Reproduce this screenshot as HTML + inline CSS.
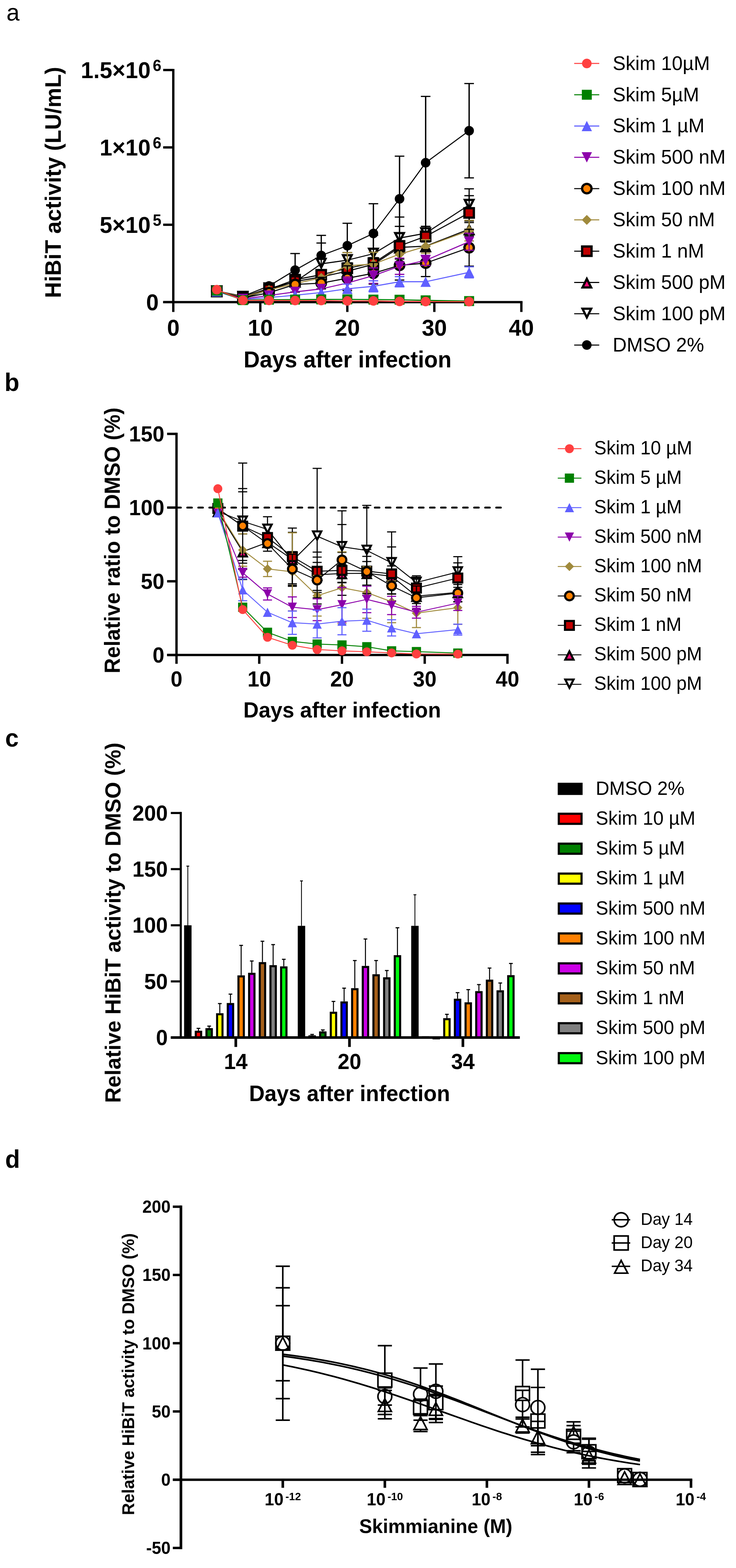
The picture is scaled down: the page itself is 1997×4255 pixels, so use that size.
<!DOCTYPE html>
<html lang="en">
<head>
<meta charset="utf-8">
<title>Skimmianine HiBiT activity figure</title>
<style>
html,body{margin:0;padding:0;background:#fff;}
body{width:1997px;height:4255px;overflow:hidden;}
svg{display:block;font-family:'Liberation Sans', sans-serif;}
text{fill:#000;}
</style>
</head>
<body>
<svg width="1997" height="4255" viewBox="0 0 1997 4255">
<rect width="1997" height="4255" fill="#fff"/>
<g id="panel-a">
<text font-size="64" text-anchor="start" transform="translate(17.5 56.0) scale(1 1.025)">a</text>
<line x1="470.2" y1="186.9" x2="470.2" y2="823.0" stroke="#000" stroke-width="6.3" />
<line x1="442.7" y1="819.9" x2="1417.8" y2="819.9" stroke="#000" stroke-width="6.3" />
<line x1="442.7" y1="819.9" x2="470.2" y2="819.9" stroke="#000" stroke-width="6.3" />
<line x1="442.7" y1="609.9" x2="470.2" y2="609.9" stroke="#000" stroke-width="6.3" />
<line x1="442.7" y1="400.0" x2="470.2" y2="400.0" stroke="#000" stroke-width="6.3" />
<line x1="442.7" y1="190.0" x2="470.2" y2="190.0" stroke="#000" stroke-width="6.3" />
<line x1="470.2" y1="819.9" x2="470.2" y2="846.6" stroke="#000" stroke-width="6.3" />
<text font-size="61.3" font-weight="bold" text-anchor="middle" transform="translate(470.2 910.5) scale(1 1.04)">0</text>
<line x1="706.3" y1="819.9" x2="706.3" y2="846.6" stroke="#000" stroke-width="6.3" />
<text font-size="61.3" font-weight="bold" text-anchor="middle" transform="translate(706.3 910.5) scale(1 1.04)">10</text>
<line x1="942.4" y1="819.9" x2="942.4" y2="846.6" stroke="#000" stroke-width="6.3" />
<text font-size="61.3" font-weight="bold" text-anchor="middle" transform="translate(942.4 910.5) scale(1 1.04)">20</text>
<line x1="1178.5" y1="819.9" x2="1178.5" y2="846.6" stroke="#000" stroke-width="6.3" />
<text font-size="61.3" font-weight="bold" text-anchor="middle" transform="translate(1178.5 910.5) scale(1 1.04)">30</text>
<line x1="1414.6" y1="819.9" x2="1414.6" y2="846.6" stroke="#000" stroke-width="6.3" />
<text font-size="61.3" font-weight="bold" text-anchor="middle" transform="translate(1414.6 910.5) scale(1 1.04)">40</text>
<text font-size="61.3" font-weight="bold" text-anchor="end" transform="translate(408.5 212.0) scale(1 1.04)">1.5×10<tspan x="6.0" dy="-18.5" text-anchor="start" font-size="42">6</tspan></text>
<text font-size="61.3" font-weight="bold" text-anchor="end" transform="translate(408.5 422.0) scale(1 1.04)">1×10<tspan x="6.0" dy="-18.5" text-anchor="start" font-size="42">6</tspan></text>
<text font-size="61.3" font-weight="bold" text-anchor="end" transform="translate(408.5 631.9) scale(1 1.04)">5×10<tspan x="6.0" dy="-18.5" text-anchor="start" font-size="42">5</tspan></text>
<text font-size="61.3" font-weight="bold" text-anchor="end" transform="translate(430.5 841.9) scale(1 1.04)">0</text>
<text font-size="60.4" font-weight="bold" text-anchor="middle" transform="translate(165.0 495.0) rotate(-90) scale(1 1.025)">HiBiT activity (LU/mL)</text>
<text font-size="60.8" font-weight="bold" text-anchor="middle" transform="translate(943.0 997.0) scale(1 1.025)">Days after infection</text>
<polyline points="588.2,789.6 659.1,804.0 729.9,776.0 800.7,733.0 871.6,693.3 942.4,666.7 1013.2,633.5 1084.1,539.5 1154.9,441.6 1272.9,354.7" fill="none" stroke="#000" stroke-width="2.8" stroke-linejoin="round" />
<line x1="800.7" y1="688.0" x2="800.7" y2="778.0" stroke="#000" stroke-width="3.2" />
<line x1="787.7" y1="688.0" x2="813.7" y2="688.0" stroke="#000" stroke-width="3.2" />
<line x1="787.7" y1="778.0" x2="813.7" y2="778.0" stroke="#000" stroke-width="3.2" />
<line x1="871.6" y1="638.7" x2="871.6" y2="747.9" stroke="#000" stroke-width="3.2" />
<line x1="858.6" y1="638.7" x2="884.6" y2="638.7" stroke="#000" stroke-width="3.2" />
<line x1="858.6" y1="747.9" x2="884.6" y2="747.9" stroke="#000" stroke-width="3.2" />
<line x1="942.4" y1="605.9" x2="942.4" y2="727.5" stroke="#000" stroke-width="3.2" />
<line x1="929.4" y1="605.9" x2="955.4" y2="605.9" stroke="#000" stroke-width="3.2" />
<line x1="929.4" y1="727.5" x2="955.4" y2="727.5" stroke="#000" stroke-width="3.2" />
<line x1="1013.2" y1="552.8" x2="1013.2" y2="714.2" stroke="#000" stroke-width="3.2" />
<line x1="1000.2" y1="552.8" x2="1026.2" y2="552.8" stroke="#000" stroke-width="3.2" />
<line x1="1000.2" y1="714.2" x2="1026.2" y2="714.2" stroke="#000" stroke-width="3.2" />
<line x1="1084.1" y1="423.8" x2="1084.1" y2="655.2" stroke="#000" stroke-width="3.2" />
<line x1="1071.1" y1="423.8" x2="1097.1" y2="423.8" stroke="#000" stroke-width="3.2" />
<line x1="1071.1" y1="655.2" x2="1097.1" y2="655.2" stroke="#000" stroke-width="3.2" />
<line x1="1154.9" y1="261.6" x2="1154.9" y2="621.6" stroke="#000" stroke-width="3.2" />
<line x1="1141.9" y1="261.6" x2="1167.9" y2="261.6" stroke="#000" stroke-width="3.2" />
<line x1="1141.9" y1="621.6" x2="1167.9" y2="621.6" stroke="#000" stroke-width="3.2" />
<line x1="1272.9" y1="226.7" x2="1272.9" y2="482.7" stroke="#000" stroke-width="3.2" />
<line x1="1259.9" y1="226.7" x2="1285.9" y2="226.7" stroke="#000" stroke-width="3.2" />
<line x1="1259.9" y1="482.7" x2="1285.9" y2="482.7" stroke="#000" stroke-width="3.2" />
<circle cx="588.2" cy="789.6" r="13.0" fill="#000"/>
<circle cx="659.1" cy="804.0" r="13.0" fill="#000"/>
<circle cx="729.9" cy="776.0" r="13.0" fill="#000"/>
<circle cx="800.7" cy="733.0" r="13.0" fill="#000"/>
<circle cx="871.6" cy="693.3" r="13.0" fill="#000"/>
<circle cx="942.4" cy="666.7" r="13.0" fill="#000"/>
<circle cx="1013.2" cy="633.5" r="13.0" fill="#000"/>
<circle cx="1084.1" cy="539.5" r="13.0" fill="#000"/>
<circle cx="1154.9" cy="441.6" r="13.0" fill="#000"/>
<circle cx="1272.9" cy="354.7" r="13.0" fill="#000"/>
<polyline points="588.2,790.5 659.1,805.5 729.9,782.7 800.7,764.8 871.6,716.0 942.4,706.0 1013.2,688.5 1084.1,646.0 1154.9,633.0 1272.9,556.0" fill="none" stroke="#000" stroke-width="2.8" stroke-linejoin="round" />
<line x1="871.6" y1="659.5" x2="871.6" y2="772.5" stroke="#000" stroke-width="3.2" />
<line x1="858.6" y1="659.5" x2="884.6" y2="659.5" stroke="#000" stroke-width="3.2" />
<line x1="858.6" y1="772.5" x2="884.6" y2="772.5" stroke="#000" stroke-width="3.2" />
<line x1="942.4" y1="685.4" x2="942.4" y2="726.6" stroke="#000" stroke-width="3.2" />
<line x1="929.4" y1="685.4" x2="955.4" y2="685.4" stroke="#000" stroke-width="3.2" />
<line x1="929.4" y1="726.6" x2="955.4" y2="726.6" stroke="#000" stroke-width="3.2" />
<line x1="1013.2" y1="638.5" x2="1013.2" y2="738.5" stroke="#000" stroke-width="3.2" />
<line x1="1000.2" y1="638.5" x2="1026.2" y2="638.5" stroke="#000" stroke-width="3.2" />
<line x1="1000.2" y1="738.5" x2="1026.2" y2="738.5" stroke="#000" stroke-width="3.2" />
<line x1="1084.1" y1="589.0" x2="1084.1" y2="703.0" stroke="#000" stroke-width="3.2" />
<line x1="1071.1" y1="589.0" x2="1097.1" y2="589.0" stroke="#000" stroke-width="3.2" />
<line x1="1071.1" y1="703.0" x2="1097.1" y2="703.0" stroke="#000" stroke-width="3.2" />
<line x1="1154.9" y1="614.3" x2="1154.9" y2="651.7" stroke="#000" stroke-width="3.2" />
<line x1="1141.9" y1="614.3" x2="1167.9" y2="614.3" stroke="#000" stroke-width="3.2" />
<line x1="1141.9" y1="651.7" x2="1167.9" y2="651.7" stroke="#000" stroke-width="3.2" />
<line x1="1272.9" y1="512.4" x2="1272.9" y2="599.6" stroke="#000" stroke-width="3.2" />
<line x1="1259.9" y1="512.4" x2="1285.9" y2="512.4" stroke="#000" stroke-width="3.2" />
<line x1="1259.9" y1="599.6" x2="1285.9" y2="599.6" stroke="#000" stroke-width="3.2" />
<polygon points="588.2,800.4 600.0,776.9 576.5,776.9" fill="#fff" stroke="#000" stroke-width="6"/>
<polygon points="659.1,815.4 670.8,791.9 647.3,791.9" fill="#fff" stroke="#000" stroke-width="6"/>
<polygon points="729.9,792.6 741.7,769.1 718.2,769.1" fill="#fff" stroke="#000" stroke-width="6"/>
<polygon points="800.7,774.7 812.5,751.2 789.0,751.2" fill="#fff" stroke="#000" stroke-width="6"/>
<polygon points="871.6,725.9 883.3,702.4 859.8,702.4" fill="#fff" stroke="#000" stroke-width="6"/>
<polygon points="942.4,715.9 954.1,692.4 930.6,692.4" fill="#fff" stroke="#000" stroke-width="6"/>
<polygon points="1013.2,698.4 1025.0,674.9 1001.5,674.9" fill="#fff" stroke="#000" stroke-width="6"/>
<polygon points="1084.1,655.9 1095.8,632.4 1072.3,632.4" fill="#fff" stroke="#000" stroke-width="6"/>
<polygon points="1154.9,642.9 1166.6,619.4 1143.1,619.4" fill="#fff" stroke="#000" stroke-width="6"/>
<polygon points="1272.9,565.9 1284.7,542.4 1261.2,542.4" fill="#fff" stroke="#000" stroke-width="6"/>
<line x1="800.7" y1="688.0" x2="800.7" y2="778.0" stroke="#000" stroke-width="3.2" />
<line x1="871.6" y1="638.7" x2="871.6" y2="747.9" stroke="#000" stroke-width="3.2" />
<line x1="942.4" y1="605.9" x2="942.4" y2="727.5" stroke="#000" stroke-width="3.2" />
<line x1="1013.2" y1="552.8" x2="1013.2" y2="714.2" stroke="#000" stroke-width="3.2" />
<line x1="1084.1" y1="423.8" x2="1084.1" y2="655.2" stroke="#000" stroke-width="3.2" />
<line x1="1154.9" y1="261.6" x2="1154.9" y2="621.6" stroke="#000" stroke-width="3.2" />
<line x1="1272.9" y1="226.7" x2="1272.9" y2="482.7" stroke="#000" stroke-width="3.2" />
<polyline points="588.2,790.5 659.1,808.8 729.9,786.5 800.7,763.8 871.6,751.5 942.4,735.8 1013.2,717.4 1084.1,671.3 1154.9,668.0 1272.9,622.0" fill="none" stroke="#000" stroke-width="2.8" stroke-linejoin="round" />
<line x1="1084.1" y1="659.5" x2="1084.1" y2="683.0" stroke="#000" stroke-width="3.2" />
<line x1="1071.1" y1="659.5" x2="1097.1" y2="659.5" stroke="#000" stroke-width="3.2" />
<line x1="1071.1" y1="683.0" x2="1097.1" y2="683.0" stroke="#000" stroke-width="3.2" />
<line x1="1154.9" y1="656.7" x2="1154.9" y2="679.3" stroke="#000" stroke-width="3.2" />
<line x1="1141.9" y1="656.7" x2="1167.9" y2="656.7" stroke="#000" stroke-width="3.2" />
<line x1="1141.9" y1="679.3" x2="1167.9" y2="679.3" stroke="#000" stroke-width="3.2" />
<line x1="1272.9" y1="603.9" x2="1272.9" y2="640.1" stroke="#000" stroke-width="3.2" />
<line x1="1259.9" y1="603.9" x2="1285.9" y2="603.9" stroke="#000" stroke-width="3.2" />
<line x1="1259.9" y1="640.1" x2="1285.9" y2="640.1" stroke="#000" stroke-width="3.2" />
<polygon points="588.2,780.6 600.0,804.1 576.5,804.1" fill="#ff0a78" stroke="#000" stroke-width="6"/>
<polygon points="659.1,798.9 670.8,822.4 647.3,822.4" fill="#ff0a78" stroke="#000" stroke-width="6"/>
<polygon points="729.9,776.6 741.7,800.1 718.2,800.1" fill="#ff0a78" stroke="#000" stroke-width="6"/>
<polygon points="800.7,753.9 812.5,777.4 789.0,777.4" fill="#ff0a78" stroke="#000" stroke-width="6"/>
<polygon points="871.6,741.6 883.3,765.1 859.8,765.1" fill="#ff0a78" stroke="#000" stroke-width="6"/>
<polygon points="942.4,725.9 954.1,749.4 930.6,749.4" fill="#ff0a78" stroke="#000" stroke-width="6"/>
<polygon points="1013.2,707.5 1025.0,731.0 1001.5,731.0" fill="#ff0a78" stroke="#000" stroke-width="6"/>
<polygon points="1084.1,661.4 1095.8,684.9 1072.3,684.9" fill="#ff0a78" stroke="#000" stroke-width="6"/>
<polygon points="1154.9,658.1 1166.6,681.6 1143.1,681.6" fill="#ff0a78" stroke="#000" stroke-width="6"/>
<polygon points="1272.9,612.1 1284.7,635.6 1261.2,635.6" fill="#ff0a78" stroke="#000" stroke-width="6"/>
<polyline points="588.2,789.9 659.1,806.1 729.9,785.1 800.7,759.0 871.6,745.5 942.4,728.0 1013.2,714.0 1084.1,667.3 1154.9,641.4 1272.9,577.7" fill="none" stroke="#000" stroke-width="2.8" stroke-linejoin="round" />
<line x1="800.7" y1="745.5" x2="800.7" y2="772.5" stroke="#000" stroke-width="3.2" />
<line x1="787.7" y1="745.5" x2="813.7" y2="745.5" stroke="#000" stroke-width="3.2" />
<line x1="787.7" y1="772.5" x2="813.7" y2="772.5" stroke="#000" stroke-width="3.2" />
<line x1="871.6" y1="732.3" x2="871.6" y2="758.7" stroke="#000" stroke-width="3.2" />
<line x1="858.6" y1="732.3" x2="884.6" y2="732.3" stroke="#000" stroke-width="3.2" />
<line x1="858.6" y1="758.7" x2="884.6" y2="758.7" stroke="#000" stroke-width="3.2" />
<line x1="942.4" y1="713.1" x2="942.4" y2="742.9" stroke="#000" stroke-width="3.2" />
<line x1="929.4" y1="713.1" x2="955.4" y2="713.1" stroke="#000" stroke-width="3.2" />
<line x1="929.4" y1="742.9" x2="955.4" y2="742.9" stroke="#000" stroke-width="3.2" />
<line x1="1013.2" y1="699.1" x2="1013.2" y2="728.9" stroke="#000" stroke-width="3.2" />
<line x1="1000.2" y1="699.1" x2="1026.2" y2="699.1" stroke="#000" stroke-width="3.2" />
<line x1="1000.2" y1="728.9" x2="1026.2" y2="728.9" stroke="#000" stroke-width="3.2" />
<line x1="1084.1" y1="614.3" x2="1084.1" y2="720.3" stroke="#000" stroke-width="3.2" />
<line x1="1071.1" y1="614.3" x2="1097.1" y2="614.3" stroke="#000" stroke-width="3.2" />
<line x1="1071.1" y1="720.3" x2="1097.1" y2="720.3" stroke="#000" stroke-width="3.2" />
<line x1="1154.9" y1="614.4" x2="1154.9" y2="668.4" stroke="#000" stroke-width="3.2" />
<line x1="1141.9" y1="614.4" x2="1167.9" y2="614.4" stroke="#000" stroke-width="3.2" />
<line x1="1141.9" y1="668.4" x2="1167.9" y2="668.4" stroke="#000" stroke-width="3.2" />
<line x1="1272.9" y1="531.0" x2="1272.9" y2="624.4" stroke="#000" stroke-width="3.2" />
<line x1="1259.9" y1="531.0" x2="1285.9" y2="531.0" stroke="#000" stroke-width="3.2" />
<line x1="1259.9" y1="624.4" x2="1285.9" y2="624.4" stroke="#000" stroke-width="3.2" />
<rect x="575.5" y="777.2" width="25.5" height="25.5" fill="#c00000" stroke="#000" stroke-width="6.2"/>
<rect x="646.3" y="793.3" width="25.5" height="25.5" fill="#c00000" stroke="#000" stroke-width="6.2"/>
<rect x="717.2" y="772.3" width="25.5" height="25.5" fill="#c00000" stroke="#000" stroke-width="6.2"/>
<rect x="788.0" y="746.2" width="25.5" height="25.5" fill="#c00000" stroke="#000" stroke-width="6.2"/>
<rect x="858.8" y="732.8" width="25.5" height="25.5" fill="#c00000" stroke="#000" stroke-width="6.2"/>
<rect x="929.6" y="715.2" width="25.5" height="25.5" fill="#c00000" stroke="#000" stroke-width="6.2"/>
<rect x="1000.5" y="701.2" width="25.5" height="25.5" fill="#c00000" stroke="#000" stroke-width="6.2"/>
<rect x="1071.3" y="654.5" width="25.5" height="25.5" fill="#c00000" stroke="#000" stroke-width="6.2"/>
<rect x="1142.1" y="628.6" width="25.5" height="25.5" fill="#c00000" stroke="#000" stroke-width="6.2"/>
<rect x="1260.2" y="565.0" width="25.5" height="25.5" fill="#c00000" stroke="#000" stroke-width="6.2"/>
<polyline points="588.2,790.1 659.1,806.0 729.9,786.9 800.7,769.6 871.6,754.0 942.4,721.5 1013.2,716.5 1084.1,689.8 1154.9,668.7 1272.9,625.9" fill="none" stroke="#a08a3c" stroke-width="2.8" stroke-linejoin="round" />
<line x1="942.4" y1="685.5" x2="942.4" y2="757.5" stroke="#a08a3c" stroke-width="3.2" />
<line x1="929.4" y1="685.5" x2="955.4" y2="685.5" stroke="#a08a3c" stroke-width="3.2" />
<line x1="929.4" y1="757.5" x2="955.4" y2="757.5" stroke="#a08a3c" stroke-width="3.2" />
<line x1="1013.2" y1="684.5" x2="1013.2" y2="748.5" stroke="#a08a3c" stroke-width="3.2" />
<line x1="1000.2" y1="684.5" x2="1026.2" y2="684.5" stroke="#a08a3c" stroke-width="3.2" />
<line x1="1000.2" y1="748.5" x2="1026.2" y2="748.5" stroke="#a08a3c" stroke-width="3.2" />
<line x1="1154.9" y1="650.5" x2="1154.9" y2="686.9" stroke="#a08a3c" stroke-width="3.2" />
<line x1="1141.9" y1="650.5" x2="1167.9" y2="650.5" stroke="#a08a3c" stroke-width="3.2" />
<line x1="1141.9" y1="686.9" x2="1167.9" y2="686.9" stroke="#a08a3c" stroke-width="3.2" />
<line x1="1272.9" y1="597.9" x2="1272.9" y2="653.9" stroke="#a08a3c" stroke-width="3.2" />
<line x1="1259.9" y1="597.9" x2="1285.9" y2="597.9" stroke="#a08a3c" stroke-width="3.2" />
<line x1="1259.9" y1="653.9" x2="1285.9" y2="653.9" stroke="#a08a3c" stroke-width="3.2" />
<polygon points="588.2,776.6 601.8,790.1 588.2,803.6 574.8,790.1" fill="#a08a3c"/>
<polygon points="659.1,792.5 672.6,806.0 659.1,819.5 645.6,806.0" fill="#a08a3c"/>
<polygon points="729.9,773.4 743.4,786.9 729.9,800.4 716.4,786.9" fill="#a08a3c"/>
<polygon points="800.7,756.1 814.2,769.6 800.7,783.1 787.2,769.6" fill="#a08a3c"/>
<polygon points="871.6,740.5 885.1,754.0 871.6,767.5 858.1,754.0" fill="#a08a3c"/>
<polygon points="942.4,708.0 955.9,721.5 942.4,735.0 928.9,721.5" fill="#a08a3c"/>
<polygon points="1013.2,703.0 1026.7,716.5 1013.2,730.0 999.7,716.5" fill="#a08a3c"/>
<polygon points="1084.1,676.3 1097.6,689.8 1084.1,703.3 1070.6,689.8" fill="#a08a3c"/>
<polygon points="1154.9,655.2 1168.4,668.7 1154.9,682.2 1141.4,668.7" fill="#a08a3c"/>
<polygon points="1272.9,612.4 1286.4,625.9 1272.9,639.4 1259.4,625.9" fill="#a08a3c"/>
<polyline points="588.2,790.2 659.1,808.6 729.9,794.4 800.7,771.9 871.6,768.3 942.4,755.0 1013.2,741.6 1084.1,720.0 1154.9,714.0 1272.9,672.2" fill="none" stroke="#000" stroke-width="2.8" stroke-linejoin="round" />
<line x1="800.7" y1="751.2" x2="800.7" y2="792.6" stroke="#000" stroke-width="3.2" />
<line x1="787.7" y1="751.2" x2="813.7" y2="751.2" stroke="#000" stroke-width="3.2" />
<line x1="787.7" y1="792.6" x2="813.7" y2="792.6" stroke="#000" stroke-width="3.2" />
<line x1="871.6" y1="752.6" x2="871.6" y2="784.0" stroke="#000" stroke-width="3.2" />
<line x1="858.6" y1="752.6" x2="884.6" y2="752.6" stroke="#000" stroke-width="3.2" />
<line x1="858.6" y1="784.0" x2="884.6" y2="784.0" stroke="#000" stroke-width="3.2" />
<line x1="942.4" y1="721.4" x2="942.4" y2="788.6" stroke="#000" stroke-width="3.2" />
<line x1="929.4" y1="721.4" x2="955.4" y2="721.4" stroke="#000" stroke-width="3.2" />
<line x1="929.4" y1="788.6" x2="955.4" y2="788.6" stroke="#000" stroke-width="3.2" />
<line x1="1013.2" y1="712.2" x2="1013.2" y2="770.9" stroke="#000" stroke-width="3.2" />
<line x1="1000.2" y1="712.2" x2="1026.2" y2="712.2" stroke="#000" stroke-width="3.2" />
<line x1="1000.2" y1="770.9" x2="1026.2" y2="770.9" stroke="#000" stroke-width="3.2" />
<line x1="1084.1" y1="680.0" x2="1084.1" y2="760.0" stroke="#000" stroke-width="3.2" />
<line x1="1071.1" y1="680.0" x2="1097.1" y2="680.0" stroke="#000" stroke-width="3.2" />
<line x1="1071.1" y1="760.0" x2="1097.1" y2="760.0" stroke="#000" stroke-width="3.2" />
<line x1="1154.9" y1="677.5" x2="1154.9" y2="750.5" stroke="#000" stroke-width="3.2" />
<line x1="1141.9" y1="677.5" x2="1167.9" y2="677.5" stroke="#000" stroke-width="3.2" />
<line x1="1141.9" y1="750.5" x2="1167.9" y2="750.5" stroke="#000" stroke-width="3.2" />
<line x1="1272.9" y1="622.2" x2="1272.9" y2="722.2" stroke="#000" stroke-width="3.2" />
<line x1="1259.9" y1="622.2" x2="1285.9" y2="622.2" stroke="#000" stroke-width="3.2" />
<line x1="1259.9" y1="722.2" x2="1285.9" y2="722.2" stroke="#000" stroke-width="3.2" />
<circle cx="588.2" cy="790.2" r="12.8" fill="#ff8000" stroke="#000" stroke-width="6.2"/>
<circle cx="659.1" cy="808.6" r="12.8" fill="#ff8000" stroke="#000" stroke-width="6.2"/>
<circle cx="729.9" cy="794.4" r="12.8" fill="#ff8000" stroke="#000" stroke-width="6.2"/>
<circle cx="800.7" cy="771.9" r="12.8" fill="#ff8000" stroke="#000" stroke-width="6.2"/>
<circle cx="871.6" cy="768.3" r="12.8" fill="#ff8000" stroke="#000" stroke-width="6.2"/>
<circle cx="942.4" cy="755.0" r="12.8" fill="#ff8000" stroke="#000" stroke-width="6.2"/>
<circle cx="1013.2" cy="741.6" r="12.8" fill="#ff8000" stroke="#000" stroke-width="6.2"/>
<circle cx="1084.1" cy="720.0" r="12.8" fill="#ff8000" stroke="#000" stroke-width="6.2"/>
<circle cx="1154.9" cy="714.0" r="12.8" fill="#ff8000" stroke="#000" stroke-width="6.2"/>
<circle cx="1272.9" cy="672.2" r="12.8" fill="#ff8000" stroke="#000" stroke-width="6.2"/>
<polyline points="588.2,790.9 659.1,811.1 729.9,801.9 800.7,792.1 871.6,784.0 942.4,768.0 1013.2,748.0 1084.1,722.5 1154.9,706.5 1272.9,656.0" fill="none" stroke="#8c00aa" stroke-width="2.8" stroke-linejoin="round" />
<line x1="942.4" y1="751.7" x2="942.4" y2="784.3" stroke="#8c00aa" stroke-width="3.2" />
<line x1="929.4" y1="751.7" x2="955.4" y2="751.7" stroke="#8c00aa" stroke-width="3.2" />
<line x1="929.4" y1="784.3" x2="955.4" y2="784.3" stroke="#8c00aa" stroke-width="3.2" />
<line x1="1013.2" y1="727.0" x2="1013.2" y2="769.0" stroke="#8c00aa" stroke-width="3.2" />
<line x1="1000.2" y1="727.0" x2="1026.2" y2="727.0" stroke="#8c00aa" stroke-width="3.2" />
<line x1="1000.2" y1="769.0" x2="1026.2" y2="769.0" stroke="#8c00aa" stroke-width="3.2" />
<line x1="1084.1" y1="700.5" x2="1084.1" y2="744.5" stroke="#8c00aa" stroke-width="3.2" />
<line x1="1071.1" y1="700.5" x2="1097.1" y2="700.5" stroke="#8c00aa" stroke-width="3.2" />
<line x1="1071.1" y1="744.5" x2="1097.1" y2="744.5" stroke="#8c00aa" stroke-width="3.2" />
<line x1="1154.9" y1="692.9" x2="1154.9" y2="720.1" stroke="#8c00aa" stroke-width="3.2" />
<line x1="1141.9" y1="692.9" x2="1167.9" y2="692.9" stroke="#8c00aa" stroke-width="3.2" />
<line x1="1141.9" y1="720.1" x2="1167.9" y2="720.1" stroke="#8c00aa" stroke-width="3.2" />
<line x1="1272.9" y1="633.0" x2="1272.9" y2="679.0" stroke="#8c00aa" stroke-width="3.2" />
<line x1="1259.9" y1="633.0" x2="1285.9" y2="633.0" stroke="#8c00aa" stroke-width="3.2" />
<line x1="1259.9" y1="679.0" x2="1285.9" y2="679.0" stroke="#8c00aa" stroke-width="3.2" />
<polygon points="588.2,804.9 602.2,776.9 574.2,776.9" fill="#8c00aa"/>
<polygon points="659.1,825.1 673.1,797.1 645.1,797.1" fill="#8c00aa"/>
<polygon points="729.9,815.9 743.9,787.9 715.9,787.9" fill="#8c00aa"/>
<polygon points="800.7,806.1 814.7,778.1 786.7,778.1" fill="#8c00aa"/>
<polygon points="871.6,798.0 885.6,770.0 857.6,770.0" fill="#8c00aa"/>
<polygon points="942.4,782.0 956.4,754.0 928.4,754.0" fill="#8c00aa"/>
<polygon points="1013.2,762.0 1027.2,734.0 999.2,734.0" fill="#8c00aa"/>
<polygon points="1084.1,736.5 1098.1,708.5 1070.1,708.5" fill="#8c00aa"/>
<polygon points="1154.9,720.5 1168.9,692.5 1140.9,692.5" fill="#8c00aa"/>
<polygon points="1272.9,670.0 1286.9,642.0 1258.9,642.0" fill="#8c00aa"/>
<polyline points="588.2,790.8 659.1,812.9 729.9,807.3 800.7,801.2 871.6,793.8 942.4,783.6 1013.2,777.0 1084.1,764.5 1154.9,764.5 1272.9,739.0" fill="none" stroke="#6060ff" stroke-width="2.8" stroke-linejoin="round" />
<line x1="942.4" y1="770.9" x2="942.4" y2="796.3" stroke="#6060ff" stroke-width="3.2" />
<line x1="929.4" y1="770.9" x2="955.4" y2="770.9" stroke="#6060ff" stroke-width="3.2" />
<line x1="929.4" y1="796.3" x2="955.4" y2="796.3" stroke="#6060ff" stroke-width="3.2" />
<line x1="1013.2" y1="762.0" x2="1013.2" y2="792.0" stroke="#6060ff" stroke-width="3.2" />
<line x1="1000.2" y1="762.0" x2="1026.2" y2="762.0" stroke="#6060ff" stroke-width="3.2" />
<line x1="1000.2" y1="792.0" x2="1026.2" y2="792.0" stroke="#6060ff" stroke-width="3.2" />
<line x1="1084.1" y1="750.6" x2="1084.1" y2="778.4" stroke="#6060ff" stroke-width="3.2" />
<line x1="1071.1" y1="750.6" x2="1097.1" y2="750.6" stroke="#6060ff" stroke-width="3.2" />
<line x1="1071.1" y1="778.4" x2="1097.1" y2="778.4" stroke="#6060ff" stroke-width="3.2" />
<line x1="1272.9" y1="724.0" x2="1272.9" y2="754.0" stroke="#6060ff" stroke-width="3.2" />
<line x1="1259.9" y1="724.0" x2="1285.9" y2="724.0" stroke="#6060ff" stroke-width="3.2" />
<line x1="1259.9" y1="754.0" x2="1285.9" y2="754.0" stroke="#6060ff" stroke-width="3.2" />
<polygon points="588.2,776.8 602.2,804.8 574.2,804.8" fill="#6060ff"/>
<polygon points="659.1,798.9 673.1,826.9 645.1,826.9" fill="#6060ff"/>
<polygon points="729.9,793.3 743.9,821.3 715.9,821.3" fill="#6060ff"/>
<polygon points="800.7,787.2 814.7,815.2 786.7,815.2" fill="#6060ff"/>
<polygon points="871.6,779.8 885.6,807.8 857.6,807.8" fill="#6060ff"/>
<polygon points="942.4,769.6 956.4,797.6 928.4,797.6" fill="#6060ff"/>
<polygon points="1013.2,763.0 1027.2,791.0 999.2,791.0" fill="#6060ff"/>
<polygon points="1084.1,750.5 1098.1,778.5 1070.1,778.5" fill="#6060ff"/>
<polygon points="1154.9,750.5 1168.9,778.5 1140.9,778.5" fill="#6060ff"/>
<polygon points="1272.9,725.0 1286.9,753.0 1258.9,753.0" fill="#6060ff"/>
<polyline points="588.2,788.8 659.1,814.5 729.9,813.2 800.7,813.0 871.6,812.5 942.4,812.4 1013.2,813.0 1084.1,813.3 1154.9,815.0 1272.9,817.0" fill="none" stroke="#008000" stroke-width="2.8" stroke-linejoin="round" />
<rect x="574.8" y="775.3" width="27.0" height="27.0" fill="#008000"/>
<rect x="645.6" y="801.0" width="27.0" height="27.0" fill="#008000"/>
<rect x="716.4" y="799.7" width="27.0" height="27.0" fill="#008000"/>
<rect x="787.2" y="799.5" width="27.0" height="27.0" fill="#008000"/>
<rect x="858.1" y="799.0" width="27.0" height="27.0" fill="#008000"/>
<rect x="928.9" y="798.9" width="27.0" height="27.0" fill="#008000"/>
<rect x="999.7" y="799.5" width="27.0" height="27.0" fill="#008000"/>
<rect x="1070.6" y="799.8" width="27.0" height="27.0" fill="#008000"/>
<rect x="1141.4" y="801.5" width="27.0" height="27.0" fill="#008000"/>
<rect x="1259.4" y="803.5" width="27.0" height="27.0" fill="#008000"/>
<polyline points="588.2,786.0 659.1,814.8 729.9,815.3 800.7,815.6 871.6,815.6 942.4,816.6 1013.2,816.6 1084.1,818.0 1154.9,818.3 1272.9,818.6" fill="none" stroke="#ff4040" stroke-width="2.8" stroke-linejoin="round" />
<circle cx="588.2" cy="786.0" r="13.0" fill="#ff4040"/>
<circle cx="659.1" cy="814.8" r="13.0" fill="#ff4040"/>
<circle cx="729.9" cy="815.3" r="13.0" fill="#ff4040"/>
<circle cx="800.7" cy="815.6" r="13.0" fill="#ff4040"/>
<circle cx="871.6" cy="815.6" r="13.0" fill="#ff4040"/>
<circle cx="942.4" cy="816.6" r="13.0" fill="#ff4040"/>
<circle cx="1013.2" cy="816.6" r="13.0" fill="#ff4040"/>
<circle cx="1084.1" cy="818.0" r="13.0" fill="#ff4040"/>
<circle cx="1154.9" cy="818.3" r="13.0" fill="#ff4040"/>
<circle cx="1272.9" cy="818.6" r="13.0" fill="#ff4040"/>
<line x1="1558.0" y1="172.2" x2="1626.0" y2="172.2" stroke="#ff4040" stroke-width="2.8" />
<circle cx="1592.2" cy="172.2" r="13.0" fill="#ff4040"/>
<text font-size="52.5" text-anchor="start" transform="translate(1662.5 189.6) scale(1 1.025)">Skim 10µM</text>
<line x1="1558.0" y1="257.1" x2="1626.0" y2="257.1" stroke="#008000" stroke-width="2.8" />
<rect x="1578.7" y="243.6" width="27.0" height="27.0" fill="#008000"/>
<text font-size="52.5" text-anchor="start" transform="translate(1662.5 274.5) scale(1 1.025)">Skim 5µM</text>
<line x1="1558.0" y1="342.0" x2="1626.0" y2="342.0" stroke="#6060ff" stroke-width="2.8" />
<polygon points="1592.2,328.0 1606.2,356.0 1578.2,356.0" fill="#6060ff"/>
<text font-size="52.5" text-anchor="start" transform="translate(1662.5 359.4) scale(1 1.025)">Skim 1 µM</text>
<line x1="1558.0" y1="426.9" x2="1626.0" y2="426.9" stroke="#8c00aa" stroke-width="2.8" />
<polygon points="1592.2,440.9 1606.2,412.9 1578.2,412.9" fill="#8c00aa"/>
<text font-size="52.5" text-anchor="start" transform="translate(1662.5 444.3) scale(1 1.025)">Skim 500 nM</text>
<line x1="1558.0" y1="511.8" x2="1626.0" y2="511.8" stroke="#000" stroke-width="2.8" />
<circle cx="1592.2" cy="511.8" r="12.8" fill="#ff8000" stroke="#000" stroke-width="6.2"/>
<text font-size="52.5" text-anchor="start" transform="translate(1662.5 529.2) scale(1 1.025)">Skim 100 nM</text>
<line x1="1558.0" y1="596.7" x2="1626.0" y2="596.7" stroke="#a08a3c" stroke-width="2.8" />
<polygon points="1592.2,583.2 1605.7,596.7 1592.2,610.2 1578.7,596.7" fill="#a08a3c"/>
<text font-size="52.5" text-anchor="start" transform="translate(1662.5 614.1) scale(1 1.025)">Skim 50 nM</text>
<line x1="1558.0" y1="681.6" x2="1626.0" y2="681.6" stroke="#000" stroke-width="2.8" />
<rect x="1579.5" y="668.9" width="25.5" height="25.5" fill="#c00000" stroke="#000" stroke-width="6.2"/>
<text font-size="52.5" text-anchor="start" transform="translate(1662.5 699.0) scale(1 1.025)">Skim 1 nM</text>
<line x1="1558.0" y1="766.5" x2="1626.0" y2="766.5" stroke="#000" stroke-width="2.8" />
<polygon points="1592.2,756.6 1604.0,780.1 1580.5,780.1" fill="#ff0a78" stroke="#000" stroke-width="6"/>
<text font-size="52.5" text-anchor="start" transform="translate(1662.5 783.9) scale(1 1.025)">Skim 500 pM</text>
<line x1="1558.0" y1="851.4" x2="1626.0" y2="851.4" stroke="#000" stroke-width="2.8" />
<polygon points="1592.2,861.3 1604.0,837.8 1580.5,837.8" fill="#fff" stroke="#000" stroke-width="6"/>
<text font-size="52.5" text-anchor="start" transform="translate(1662.5 868.8) scale(1 1.025)">Skim 100 pM</text>
<line x1="1558.0" y1="936.3" x2="1626.0" y2="936.3" stroke="#000" stroke-width="2.8" />
<circle cx="1592.2" cy="936.3" r="13.0" fill="#000"/>
<text font-size="52.5" text-anchor="start" transform="translate(1662.5 953.7) scale(1 1.025)">DMSO 2%</text>
</g>
<g id="panel-b">
<text font-size="66" font-weight="bold" text-anchor="start" transform="translate(12.3 1060.5) scale(1 1.025)">b</text>
<line x1="478.9" y1="1174.2" x2="478.9" y2="1780.6" stroke="#000" stroke-width="6.4" />
<line x1="453.4" y1="1777.4" x2="1380.1" y2="1777.4" stroke="#000" stroke-width="6.4" />
<line x1="453.4" y1="1777.4" x2="478.9" y2="1777.4" stroke="#000" stroke-width="6.4" />
<text font-size="57.5" font-weight="bold" text-anchor="end" transform="translate(445.9 1797.7) scale(1 1.04)">0</text>
<line x1="453.4" y1="1577.4" x2="478.9" y2="1577.4" stroke="#000" stroke-width="6.4" />
<text font-size="57.5" font-weight="bold" text-anchor="end" transform="translate(445.9 1597.7) scale(1 1.04)">50</text>
<line x1="453.4" y1="1377.4" x2="478.9" y2="1377.4" stroke="#000" stroke-width="6.4" />
<text font-size="57.5" font-weight="bold" text-anchor="end" transform="translate(445.9 1397.7) scale(1 1.04)">100</text>
<line x1="453.4" y1="1177.4" x2="478.9" y2="1177.4" stroke="#000" stroke-width="6.4" />
<text font-size="57.5" font-weight="bold" text-anchor="end" transform="translate(445.9 1197.7) scale(1 1.04)">150</text>
<line x1="478.9" y1="1777.4" x2="478.9" y2="1801.4" stroke="#000" stroke-width="6.4" />
<text font-size="57.5" font-weight="bold" text-anchor="middle" transform="translate(478.9 1863.2) scale(1 1.04)">0</text>
<line x1="703.4" y1="1777.4" x2="703.4" y2="1801.4" stroke="#000" stroke-width="6.4" />
<text font-size="57.5" font-weight="bold" text-anchor="middle" transform="translate(703.4 1863.2) scale(1 1.04)">10</text>
<line x1="927.9" y1="1777.4" x2="927.9" y2="1801.4" stroke="#000" stroke-width="6.4" />
<text font-size="57.5" font-weight="bold" text-anchor="middle" transform="translate(927.9 1863.2) scale(1 1.04)">20</text>
<line x1="1152.4" y1="1777.4" x2="1152.4" y2="1801.4" stroke="#000" stroke-width="6.4" />
<text font-size="57.5" font-weight="bold" text-anchor="middle" transform="translate(1152.4 1863.2) scale(1 1.04)">30</text>
<line x1="1376.9" y1="1777.4" x2="1376.9" y2="1801.4" stroke="#000" stroke-width="6.4" />
<text font-size="57.5" font-weight="bold" text-anchor="middle" transform="translate(1376.9 1863.2) scale(1 1.04)">40</text>
<text font-size="57.2" font-weight="bold" text-anchor="middle" transform="translate(325.0 1466.5) rotate(-90) scale(1 1.025)">Relative ratio to DMSO (%)</text>
<text font-size="57.8" font-weight="bold" text-anchor="middle" transform="translate(928.3 1946.5) scale(1 1.025)">Days after infection</text>
<line x1="478.3" y1="1377.4" x2="1358.9" y2="1377.4" stroke="#000" stroke-width="5.4" stroke-dasharray="12.2 17.74" stroke-linecap="round"/>
<polyline points="591.1,1387.8 658.5,1414.6 725.8,1436.6 793.2,1522.2 860.5,1455.0 927.9,1483.8 995.2,1493.8 1062.6,1527.4 1129.9,1580.6 1242.2,1552.2" fill="none" stroke="#000" stroke-width="2.5" stroke-linejoin="round" />
<line x1="591.1" y1="1375.8" x2="591.1" y2="1399.8" stroke="#000" stroke-width="3.0" />
<line x1="578.9" y1="1375.8" x2="603.4" y2="1375.8" stroke="#000" stroke-width="3.0" />
<line x1="578.9" y1="1399.8" x2="603.4" y2="1399.8" stroke="#000" stroke-width="3.0" />
<line x1="658.5" y1="1256.6" x2="658.5" y2="1572.6" stroke="#000" stroke-width="3.0" />
<line x1="646.2" y1="1256.6" x2="670.8" y2="1256.6" stroke="#000" stroke-width="3.0" />
<line x1="646.2" y1="1572.6" x2="670.8" y2="1572.6" stroke="#000" stroke-width="3.0" />
<line x1="725.8" y1="1402.2" x2="725.8" y2="1471.0" stroke="#000" stroke-width="3.0" />
<line x1="713.6" y1="1402.2" x2="738.1" y2="1402.2" stroke="#000" stroke-width="3.0" />
<line x1="713.6" y1="1471.0" x2="738.1" y2="1471.0" stroke="#000" stroke-width="3.0" />
<line x1="793.2" y1="1497.0" x2="793.2" y2="1547.4" stroke="#000" stroke-width="3.0" />
<line x1="781.0" y1="1497.0" x2="805.5" y2="1497.0" stroke="#000" stroke-width="3.0" />
<line x1="781.0" y1="1547.4" x2="805.5" y2="1547.4" stroke="#000" stroke-width="3.0" />
<line x1="860.5" y1="1271.0" x2="860.5" y2="1639.0" stroke="#000" stroke-width="3.0" />
<line x1="848.3" y1="1271.0" x2="872.8" y2="1271.0" stroke="#000" stroke-width="3.0" />
<line x1="848.3" y1="1639.0" x2="872.8" y2="1639.0" stroke="#000" stroke-width="3.0" />
<line x1="927.9" y1="1386.2" x2="927.9" y2="1581.4" stroke="#000" stroke-width="3.0" />
<line x1="915.6" y1="1386.2" x2="940.1" y2="1386.2" stroke="#000" stroke-width="3.0" />
<line x1="915.6" y1="1581.4" x2="940.1" y2="1581.4" stroke="#000" stroke-width="3.0" />
<line x1="995.2" y1="1371.4" x2="995.2" y2="1616.2" stroke="#000" stroke-width="3.0" />
<line x1="983.0" y1="1371.4" x2="1007.5" y2="1371.4" stroke="#000" stroke-width="3.0" />
<line x1="983.0" y1="1616.2" x2="1007.5" y2="1616.2" stroke="#000" stroke-width="3.0" />
<line x1="1062.6" y1="1443.4" x2="1062.6" y2="1611.4" stroke="#000" stroke-width="3.0" />
<line x1="1050.3" y1="1443.4" x2="1074.8" y2="1443.4" stroke="#000" stroke-width="3.0" />
<line x1="1050.3" y1="1611.4" x2="1074.8" y2="1611.4" stroke="#000" stroke-width="3.0" />
<line x1="1129.9" y1="1562.6" x2="1129.9" y2="1598.6" stroke="#000" stroke-width="3.0" />
<line x1="1117.7" y1="1562.6" x2="1142.2" y2="1562.6" stroke="#000" stroke-width="3.0" />
<line x1="1117.7" y1="1598.6" x2="1142.2" y2="1598.6" stroke="#000" stroke-width="3.0" />
<line x1="1242.2" y1="1510.6" x2="1242.2" y2="1593.8" stroke="#000" stroke-width="3.0" />
<line x1="1229.9" y1="1510.6" x2="1254.4" y2="1510.6" stroke="#000" stroke-width="3.0" />
<line x1="1229.9" y1="1593.8" x2="1254.4" y2="1593.8" stroke="#000" stroke-width="3.0" />
<polygon points="591.1,1397.3 602.4,1374.8 579.9,1374.8" fill="#fff" stroke="#000" stroke-width="5.6"/>
<polygon points="658.5,1424.1 669.8,1401.6 647.2,1401.6" fill="#fff" stroke="#000" stroke-width="5.6"/>
<polygon points="725.8,1446.1 737.1,1423.6 714.6,1423.6" fill="#fff" stroke="#000" stroke-width="5.6"/>
<polygon points="793.2,1531.7 804.5,1509.2 782.0,1509.2" fill="#fff" stroke="#000" stroke-width="5.6"/>
<polygon points="860.5,1464.5 871.8,1442.0 849.3,1442.0" fill="#fff" stroke="#000" stroke-width="5.6"/>
<polygon points="927.9,1493.3 939.1,1470.8 916.6,1470.8" fill="#fff" stroke="#000" stroke-width="5.6"/>
<polygon points="995.2,1503.3 1006.5,1480.8 984.0,1480.8" fill="#fff" stroke="#000" stroke-width="5.6"/>
<polygon points="1062.6,1536.9 1073.8,1514.4 1051.3,1514.4" fill="#fff" stroke="#000" stroke-width="5.6"/>
<polygon points="1129.9,1590.1 1141.2,1567.6 1118.7,1567.6" fill="#fff" stroke="#000" stroke-width="5.6"/>
<polygon points="1242.2,1561.7 1253.4,1539.2 1230.9,1539.2" fill="#fff" stroke="#000" stroke-width="5.6"/>
<polyline points="591.1,1387.8 658.5,1497.0 725.8,1471.8 793.2,1517.8 860.5,1559.8 927.9,1556.2 995.2,1555.8 1062.6,1563.8 1129.9,1617.8 1242.2,1607.4" fill="none" stroke="#000" stroke-width="2.5" stroke-linejoin="round" />
<line x1="591.1" y1="1375.8" x2="591.1" y2="1399.8" stroke="#000" stroke-width="3.0" />
<line x1="578.9" y1="1375.8" x2="603.4" y2="1375.8" stroke="#000" stroke-width="3.0" />
<line x1="578.9" y1="1399.8" x2="603.4" y2="1399.8" stroke="#000" stroke-width="3.0" />
<line x1="658.5" y1="1449.0" x2="658.5" y2="1545.0" stroke="#000" stroke-width="3.0" />
<line x1="646.2" y1="1449.0" x2="670.8" y2="1449.0" stroke="#000" stroke-width="3.0" />
<line x1="646.2" y1="1545.0" x2="670.8" y2="1545.0" stroke="#000" stroke-width="3.0" />
<line x1="725.8" y1="1447.8" x2="725.8" y2="1495.8" stroke="#000" stroke-width="3.0" />
<line x1="713.6" y1="1447.8" x2="738.1" y2="1447.8" stroke="#000" stroke-width="3.0" />
<line x1="713.6" y1="1495.8" x2="738.1" y2="1495.8" stroke="#000" stroke-width="3.0" />
<line x1="793.2" y1="1444.6" x2="793.2" y2="1591.0" stroke="#000" stroke-width="3.0" />
<line x1="781.0" y1="1444.6" x2="805.5" y2="1444.6" stroke="#000" stroke-width="3.0" />
<line x1="781.0" y1="1591.0" x2="805.5" y2="1591.0" stroke="#000" stroke-width="3.0" />
<line x1="860.5" y1="1511.8" x2="860.5" y2="1607.8" stroke="#000" stroke-width="3.0" />
<line x1="848.3" y1="1511.8" x2="872.8" y2="1511.8" stroke="#000" stroke-width="3.0" />
<line x1="848.3" y1="1607.8" x2="872.8" y2="1607.8" stroke="#000" stroke-width="3.0" />
<line x1="927.9" y1="1532.2" x2="927.9" y2="1580.2" stroke="#000" stroke-width="3.0" />
<line x1="915.6" y1="1532.2" x2="940.1" y2="1532.2" stroke="#000" stroke-width="3.0" />
<line x1="915.6" y1="1580.2" x2="940.1" y2="1580.2" stroke="#000" stroke-width="3.0" />
<line x1="995.2" y1="1523.8" x2="995.2" y2="1587.8" stroke="#000" stroke-width="3.0" />
<line x1="983.0" y1="1523.8" x2="1007.5" y2="1523.8" stroke="#000" stroke-width="3.0" />
<line x1="983.0" y1="1587.8" x2="1007.5" y2="1587.8" stroke="#000" stroke-width="3.0" />
<line x1="1062.6" y1="1535.8" x2="1062.6" y2="1591.8" stroke="#000" stroke-width="3.0" />
<line x1="1050.3" y1="1535.8" x2="1074.8" y2="1535.8" stroke="#000" stroke-width="3.0" />
<line x1="1050.3" y1="1591.8" x2="1074.8" y2="1591.8" stroke="#000" stroke-width="3.0" />
<line x1="1129.9" y1="1597.8" x2="1129.9" y2="1637.8" stroke="#000" stroke-width="3.0" />
<line x1="1117.7" y1="1597.8" x2="1142.2" y2="1597.8" stroke="#000" stroke-width="3.0" />
<line x1="1117.7" y1="1637.8" x2="1142.2" y2="1637.8" stroke="#000" stroke-width="3.0" />
<line x1="1242.2" y1="1581.4" x2="1242.2" y2="1633.4" stroke="#000" stroke-width="3.0" />
<line x1="1229.9" y1="1581.4" x2="1254.4" y2="1581.4" stroke="#000" stroke-width="3.0" />
<line x1="1229.9" y1="1633.4" x2="1254.4" y2="1633.4" stroke="#000" stroke-width="3.0" />
<polygon points="591.1,1378.3 602.4,1400.8 579.9,1400.8" fill="#ff0a78" stroke="#000" stroke-width="5.6"/>
<polygon points="658.5,1487.5 669.8,1510.0 647.2,1510.0" fill="#ff0a78" stroke="#000" stroke-width="5.6"/>
<polygon points="725.8,1462.3 737.1,1484.8 714.6,1484.8" fill="#ff0a78" stroke="#000" stroke-width="5.6"/>
<polygon points="793.2,1508.3 804.5,1530.8 782.0,1530.8" fill="#ff0a78" stroke="#000" stroke-width="5.6"/>
<polygon points="860.5,1550.3 871.8,1572.8 849.3,1572.8" fill="#ff0a78" stroke="#000" stroke-width="5.6"/>
<polygon points="927.9,1546.7 939.1,1569.2 916.6,1569.2" fill="#ff0a78" stroke="#000" stroke-width="5.6"/>
<polygon points="995.2,1546.3 1006.5,1568.8 984.0,1568.8" fill="#ff0a78" stroke="#000" stroke-width="5.6"/>
<polygon points="1062.6,1554.3 1073.8,1576.8 1051.3,1576.8" fill="#ff0a78" stroke="#000" stroke-width="5.6"/>
<polygon points="1129.9,1608.3 1141.2,1630.8 1118.7,1630.8" fill="#ff0a78" stroke="#000" stroke-width="5.6"/>
<polygon points="1242.2,1597.9 1253.4,1620.4 1230.9,1620.4" fill="#ff0a78" stroke="#000" stroke-width="5.6"/>
<polyline points="591.1,1379.8 658.5,1427.8 725.8,1458.6 793.2,1510.6 860.5,1550.2 927.9,1547.8 995.2,1549.8 1062.6,1557.4 1129.9,1595.8 1242.2,1568.6" fill="none" stroke="#000" stroke-width="2.5" stroke-linejoin="round" />
<line x1="591.1" y1="1367.8" x2="591.1" y2="1391.8" stroke="#000" stroke-width="3.0" />
<line x1="578.9" y1="1367.8" x2="603.4" y2="1367.8" stroke="#000" stroke-width="3.0" />
<line x1="578.9" y1="1391.8" x2="603.4" y2="1391.8" stroke="#000" stroke-width="3.0" />
<line x1="658.5" y1="1334.6" x2="658.5" y2="1521.0" stroke="#000" stroke-width="3.0" />
<line x1="646.2" y1="1334.6" x2="670.8" y2="1334.6" stroke="#000" stroke-width="3.0" />
<line x1="646.2" y1="1521.0" x2="670.8" y2="1521.0" stroke="#000" stroke-width="3.0" />
<line x1="793.2" y1="1433.0" x2="793.2" y2="1588.2" stroke="#000" stroke-width="3.0" />
<line x1="781.0" y1="1433.0" x2="805.5" y2="1433.0" stroke="#000" stroke-width="3.0" />
<line x1="781.0" y1="1588.2" x2="805.5" y2="1588.2" stroke="#000" stroke-width="3.0" />
<line x1="860.5" y1="1498.2" x2="860.5" y2="1602.2" stroke="#000" stroke-width="3.0" />
<line x1="848.3" y1="1498.2" x2="872.8" y2="1498.2" stroke="#000" stroke-width="3.0" />
<line x1="848.3" y1="1602.2" x2="872.8" y2="1602.2" stroke="#000" stroke-width="3.0" />
<line x1="927.9" y1="1499.0" x2="927.9" y2="1596.6" stroke="#000" stroke-width="3.0" />
<line x1="915.6" y1="1499.0" x2="940.1" y2="1499.0" stroke="#000" stroke-width="3.0" />
<line x1="915.6" y1="1596.6" x2="940.1" y2="1596.6" stroke="#000" stroke-width="3.0" />
<line x1="995.2" y1="1509.8" x2="995.2" y2="1589.8" stroke="#000" stroke-width="3.0" />
<line x1="983.0" y1="1509.8" x2="1007.5" y2="1509.8" stroke="#000" stroke-width="3.0" />
<line x1="983.0" y1="1589.8" x2="1007.5" y2="1589.8" stroke="#000" stroke-width="3.0" />
<line x1="1062.6" y1="1484.2" x2="1062.6" y2="1630.6" stroke="#000" stroke-width="3.0" />
<line x1="1050.3" y1="1484.2" x2="1074.8" y2="1484.2" stroke="#000" stroke-width="3.0" />
<line x1="1050.3" y1="1630.6" x2="1074.8" y2="1630.6" stroke="#000" stroke-width="3.0" />
<line x1="1129.9" y1="1571.8" x2="1129.9" y2="1619.8" stroke="#000" stroke-width="3.0" />
<line x1="1117.7" y1="1571.8" x2="1142.2" y2="1571.8" stroke="#000" stroke-width="3.0" />
<line x1="1117.7" y1="1619.8" x2="1142.2" y2="1619.8" stroke="#000" stroke-width="3.0" />
<line x1="1242.2" y1="1527.4" x2="1242.2" y2="1609.8" stroke="#000" stroke-width="3.0" />
<line x1="1229.9" y1="1527.4" x2="1254.4" y2="1527.4" stroke="#000" stroke-width="3.0" />
<line x1="1229.9" y1="1609.8" x2="1254.4" y2="1609.8" stroke="#000" stroke-width="3.0" />
<rect x="579.1" y="1367.8" width="24.0" height="24.0" fill="#c00000" stroke="#000" stroke-width="5.8"/>
<rect x="646.5" y="1415.8" width="24.0" height="24.0" fill="#c00000" stroke="#000" stroke-width="5.8"/>
<rect x="713.8" y="1446.6" width="24.0" height="24.0" fill="#c00000" stroke="#000" stroke-width="5.8"/>
<rect x="781.2" y="1498.6" width="24.0" height="24.0" fill="#c00000" stroke="#000" stroke-width="5.8"/>
<rect x="848.5" y="1538.2" width="24.0" height="24.0" fill="#c00000" stroke="#000" stroke-width="5.8"/>
<rect x="915.9" y="1535.8" width="24.0" height="24.0" fill="#c00000" stroke="#000" stroke-width="5.8"/>
<rect x="983.2" y="1537.8" width="24.0" height="24.0" fill="#c00000" stroke="#000" stroke-width="5.8"/>
<rect x="1050.6" y="1545.4" width="24.0" height="24.0" fill="#c00000" stroke="#000" stroke-width="5.8"/>
<rect x="1117.9" y="1583.8" width="24.0" height="24.0" fill="#c00000" stroke="#000" stroke-width="5.8"/>
<rect x="1230.2" y="1556.6" width="24.0" height="24.0" fill="#c00000" stroke="#000" stroke-width="5.8"/>
<polyline points="591.1,1383.8 658.5,1492.6 725.8,1543.8 793.2,1551.8 860.5,1616.6 927.9,1595.0 995.2,1607.8 1062.6,1633.0 1129.9,1663.8 1242.2,1649.0" fill="none" stroke="#a08a3c" stroke-width="2.5" stroke-linejoin="round" />
<line x1="658.5" y1="1448.6" x2="658.5" y2="1536.6" stroke="#a08a3c" stroke-width="3.0" />
<line x1="646.2" y1="1448.6" x2="670.8" y2="1448.6" stroke="#a08a3c" stroke-width="3.0" />
<line x1="646.2" y1="1536.6" x2="670.8" y2="1536.6" stroke="#a08a3c" stroke-width="3.0" />
<line x1="725.8" y1="1523.0" x2="725.8" y2="1564.6" stroke="#a08a3c" stroke-width="3.0" />
<line x1="713.6" y1="1523.0" x2="738.1" y2="1523.0" stroke="#a08a3c" stroke-width="3.0" />
<line x1="713.6" y1="1564.6" x2="738.1" y2="1564.6" stroke="#a08a3c" stroke-width="3.0" />
<line x1="793.2" y1="1445.8" x2="793.2" y2="1657.8" stroke="#a08a3c" stroke-width="3.0" />
<line x1="781.0" y1="1445.8" x2="805.5" y2="1445.8" stroke="#a08a3c" stroke-width="3.0" />
<line x1="781.0" y1="1657.8" x2="805.5" y2="1657.8" stroke="#a08a3c" stroke-width="3.0" />
<line x1="860.5" y1="1561.4" x2="860.5" y2="1671.8" stroke="#a08a3c" stroke-width="3.0" />
<line x1="848.3" y1="1561.4" x2="872.8" y2="1561.4" stroke="#a08a3c" stroke-width="3.0" />
<line x1="848.3" y1="1671.8" x2="872.8" y2="1671.8" stroke="#a08a3c" stroke-width="3.0" />
<line x1="927.9" y1="1497.4" x2="927.9" y2="1692.6" stroke="#a08a3c" stroke-width="3.0" />
<line x1="915.6" y1="1497.4" x2="940.1" y2="1497.4" stroke="#a08a3c" stroke-width="3.0" />
<line x1="915.6" y1="1692.6" x2="940.1" y2="1692.6" stroke="#a08a3c" stroke-width="3.0" />
<line x1="995.2" y1="1537.8" x2="995.2" y2="1677.8" stroke="#a08a3c" stroke-width="3.0" />
<line x1="983.0" y1="1537.8" x2="1007.5" y2="1537.8" stroke="#a08a3c" stroke-width="3.0" />
<line x1="983.0" y1="1677.8" x2="1007.5" y2="1677.8" stroke="#a08a3c" stroke-width="3.0" />
<line x1="1062.6" y1="1576.2" x2="1062.6" y2="1689.8" stroke="#a08a3c" stroke-width="3.0" />
<line x1="1050.3" y1="1576.2" x2="1074.8" y2="1576.2" stroke="#a08a3c" stroke-width="3.0" />
<line x1="1050.3" y1="1689.8" x2="1074.8" y2="1689.8" stroke="#a08a3c" stroke-width="3.0" />
<line x1="1129.9" y1="1624.6" x2="1129.9" y2="1703.0" stroke="#a08a3c" stroke-width="3.0" />
<line x1="1117.7" y1="1624.6" x2="1142.2" y2="1624.6" stroke="#a08a3c" stroke-width="3.0" />
<line x1="1117.7" y1="1703.0" x2="1142.2" y2="1703.0" stroke="#a08a3c" stroke-width="3.0" />
<line x1="1242.2" y1="1603.8" x2="1242.2" y2="1694.2" stroke="#a08a3c" stroke-width="3.0" />
<line x1="1229.9" y1="1603.8" x2="1254.4" y2="1603.8" stroke="#a08a3c" stroke-width="3.0" />
<line x1="1229.9" y1="1694.2" x2="1254.4" y2="1694.2" stroke="#a08a3c" stroke-width="3.0" />
<polygon points="591.1,1371.3 603.6,1383.8 591.1,1396.3 578.6,1383.8" fill="#a08a3c"/>
<polygon points="658.5,1480.1 671.0,1492.6 658.5,1505.1 646.0,1492.6" fill="#a08a3c"/>
<polygon points="725.8,1531.3 738.3,1543.8 725.8,1556.3 713.3,1543.8" fill="#a08a3c"/>
<polygon points="793.2,1539.3 805.7,1551.8 793.2,1564.3 780.7,1551.8" fill="#a08a3c"/>
<polygon points="860.5,1604.1 873.0,1616.6 860.5,1629.1 848.0,1616.6" fill="#a08a3c"/>
<polygon points="927.9,1582.5 940.4,1595.0 927.9,1607.5 915.4,1595.0" fill="#a08a3c"/>
<polygon points="995.2,1595.3 1007.8,1607.8 995.2,1620.3 982.8,1607.8" fill="#a08a3c"/>
<polygon points="1062.6,1620.5 1075.1,1633.0 1062.6,1645.5 1050.1,1633.0" fill="#a08a3c"/>
<polygon points="1129.9,1651.3 1142.4,1663.8 1129.9,1676.3 1117.4,1663.8" fill="#a08a3c"/>
<polygon points="1242.2,1636.5 1254.7,1649.0 1242.2,1661.5 1229.7,1649.0" fill="#a08a3c"/>
<polyline points="591.1,1381.8 658.5,1427.0 725.8,1475.0 793.2,1544.2 860.5,1574.2 927.9,1519.4 995.2,1551.0 1062.6,1589.8 1129.9,1622.2 1242.2,1609.4" fill="none" stroke="#000" stroke-width="2.5" stroke-linejoin="round" />
<line x1="591.1" y1="1369.8" x2="591.1" y2="1393.8" stroke="#000" stroke-width="3.0" />
<line x1="578.9" y1="1369.8" x2="603.4" y2="1369.8" stroke="#000" stroke-width="3.0" />
<line x1="578.9" y1="1393.8" x2="603.4" y2="1393.8" stroke="#000" stroke-width="3.0" />
<line x1="658.5" y1="1325.8" x2="658.5" y2="1528.2" stroke="#000" stroke-width="3.0" />
<line x1="646.2" y1="1325.8" x2="670.8" y2="1325.8" stroke="#000" stroke-width="3.0" />
<line x1="646.2" y1="1528.2" x2="670.8" y2="1528.2" stroke="#000" stroke-width="3.0" />
<line x1="725.8" y1="1465.0" x2="725.8" y2="1485.0" stroke="#000" stroke-width="3.0" />
<line x1="713.6" y1="1465.0" x2="738.1" y2="1465.0" stroke="#000" stroke-width="3.0" />
<line x1="713.6" y1="1485.0" x2="738.1" y2="1485.0" stroke="#000" stroke-width="3.0" />
<line x1="793.2" y1="1504.2" x2="793.2" y2="1584.2" stroke="#000" stroke-width="3.0" />
<line x1="781.0" y1="1504.2" x2="805.5" y2="1504.2" stroke="#000" stroke-width="3.0" />
<line x1="781.0" y1="1584.2" x2="805.5" y2="1584.2" stroke="#000" stroke-width="3.0" />
<line x1="860.5" y1="1526.2" x2="860.5" y2="1622.2" stroke="#000" stroke-width="3.0" />
<line x1="848.3" y1="1526.2" x2="872.8" y2="1526.2" stroke="#000" stroke-width="3.0" />
<line x1="848.3" y1="1622.2" x2="872.8" y2="1622.2" stroke="#000" stroke-width="3.0" />
<line x1="927.9" y1="1423.4" x2="927.9" y2="1615.4" stroke="#000" stroke-width="3.0" />
<line x1="915.6" y1="1423.4" x2="940.1" y2="1423.4" stroke="#000" stroke-width="3.0" />
<line x1="915.6" y1="1615.4" x2="940.1" y2="1615.4" stroke="#000" stroke-width="3.0" />
<line x1="995.2" y1="1491.0" x2="995.2" y2="1611.0" stroke="#000" stroke-width="3.0" />
<line x1="983.0" y1="1491.0" x2="1007.5" y2="1491.0" stroke="#000" stroke-width="3.0" />
<line x1="983.0" y1="1611.0" x2="1007.5" y2="1611.0" stroke="#000" stroke-width="3.0" />
<line x1="1062.6" y1="1567.4" x2="1062.6" y2="1612.2" stroke="#000" stroke-width="3.0" />
<line x1="1050.3" y1="1567.4" x2="1074.8" y2="1567.4" stroke="#000" stroke-width="3.0" />
<line x1="1050.3" y1="1612.2" x2="1074.8" y2="1612.2" stroke="#000" stroke-width="3.0" />
<line x1="1129.9" y1="1590.2" x2="1129.9" y2="1654.2" stroke="#000" stroke-width="3.0" />
<line x1="1117.7" y1="1590.2" x2="1142.2" y2="1590.2" stroke="#000" stroke-width="3.0" />
<line x1="1117.7" y1="1654.2" x2="1142.2" y2="1654.2" stroke="#000" stroke-width="3.0" />
<line x1="1242.2" y1="1586.2" x2="1242.2" y2="1632.6" stroke="#000" stroke-width="3.0" />
<line x1="1229.9" y1="1586.2" x2="1254.4" y2="1586.2" stroke="#000" stroke-width="3.0" />
<line x1="1229.9" y1="1632.6" x2="1254.4" y2="1632.6" stroke="#000" stroke-width="3.0" />
<circle cx="591.1" cy="1381.8" r="11.8" fill="#ff8000" stroke="#000" stroke-width="5.8"/>
<circle cx="658.5" cy="1427.0" r="11.8" fill="#ff8000" stroke="#000" stroke-width="5.8"/>
<circle cx="725.8" cy="1475.0" r="11.8" fill="#ff8000" stroke="#000" stroke-width="5.8"/>
<circle cx="793.2" cy="1544.2" r="11.8" fill="#ff8000" stroke="#000" stroke-width="5.8"/>
<circle cx="860.5" cy="1574.2" r="11.8" fill="#ff8000" stroke="#000" stroke-width="5.8"/>
<circle cx="927.9" cy="1519.4" r="11.8" fill="#ff8000" stroke="#000" stroke-width="5.8"/>
<circle cx="995.2" cy="1551.0" r="11.8" fill="#ff8000" stroke="#000" stroke-width="5.8"/>
<circle cx="1062.6" cy="1589.8" r="11.8" fill="#ff8000" stroke="#000" stroke-width="5.8"/>
<circle cx="1129.9" cy="1622.2" r="11.8" fill="#ff8000" stroke="#000" stroke-width="5.8"/>
<circle cx="1242.2" cy="1609.4" r="11.8" fill="#ff8000" stroke="#000" stroke-width="5.8"/>
<polyline points="591.1,1392.6 658.5,1554.2 725.8,1611.8 793.2,1647.8 860.5,1654.6 927.9,1641.0 995.2,1626.6 1062.6,1643.0 1129.9,1661.4 1242.2,1636.6" fill="none" stroke="#8c00aa" stroke-width="2.5" stroke-linejoin="round" />
<line x1="658.5" y1="1542.2" x2="658.5" y2="1566.2" stroke="#8c00aa" stroke-width="3.0" />
<line x1="646.2" y1="1542.2" x2="670.8" y2="1542.2" stroke="#8c00aa" stroke-width="3.0" />
<line x1="646.2" y1="1566.2" x2="670.8" y2="1566.2" stroke="#8c00aa" stroke-width="3.0" />
<line x1="725.8" y1="1595.4" x2="725.8" y2="1628.2" stroke="#8c00aa" stroke-width="3.0" />
<line x1="713.6" y1="1595.4" x2="738.1" y2="1595.4" stroke="#8c00aa" stroke-width="3.0" />
<line x1="713.6" y1="1628.2" x2="738.1" y2="1628.2" stroke="#8c00aa" stroke-width="3.0" />
<line x1="793.2" y1="1619.8" x2="793.2" y2="1675.8" stroke="#8c00aa" stroke-width="3.0" />
<line x1="781.0" y1="1619.8" x2="805.5" y2="1619.8" stroke="#8c00aa" stroke-width="3.0" />
<line x1="781.0" y1="1675.8" x2="805.5" y2="1675.8" stroke="#8c00aa" stroke-width="3.0" />
<line x1="860.5" y1="1625.0" x2="860.5" y2="1684.2" stroke="#8c00aa" stroke-width="3.0" />
<line x1="848.3" y1="1625.0" x2="872.8" y2="1625.0" stroke="#8c00aa" stroke-width="3.0" />
<line x1="848.3" y1="1684.2" x2="872.8" y2="1684.2" stroke="#8c00aa" stroke-width="3.0" />
<line x1="927.9" y1="1593.8" x2="927.9" y2="1688.2" stroke="#8c00aa" stroke-width="3.0" />
<line x1="915.6" y1="1593.8" x2="940.1" y2="1593.8" stroke="#8c00aa" stroke-width="3.0" />
<line x1="915.6" y1="1688.2" x2="940.1" y2="1688.2" stroke="#8c00aa" stroke-width="3.0" />
<line x1="995.2" y1="1590.6" x2="995.2" y2="1662.6" stroke="#8c00aa" stroke-width="3.0" />
<line x1="983.0" y1="1590.6" x2="1007.5" y2="1590.6" stroke="#8c00aa" stroke-width="3.0" />
<line x1="983.0" y1="1662.6" x2="1007.5" y2="1662.6" stroke="#8c00aa" stroke-width="3.0" />
<line x1="1062.6" y1="1618.2" x2="1062.6" y2="1667.8" stroke="#8c00aa" stroke-width="3.0" />
<line x1="1050.3" y1="1618.2" x2="1074.8" y2="1618.2" stroke="#8c00aa" stroke-width="3.0" />
<line x1="1050.3" y1="1667.8" x2="1074.8" y2="1667.8" stroke="#8c00aa" stroke-width="3.0" />
<line x1="1129.9" y1="1645.4" x2="1129.9" y2="1677.4" stroke="#8c00aa" stroke-width="3.0" />
<line x1="1117.7" y1="1645.4" x2="1142.2" y2="1645.4" stroke="#8c00aa" stroke-width="3.0" />
<line x1="1117.7" y1="1677.4" x2="1142.2" y2="1677.4" stroke="#8c00aa" stroke-width="3.0" />
<line x1="1242.2" y1="1616.6" x2="1242.2" y2="1656.6" stroke="#8c00aa" stroke-width="3.0" />
<line x1="1229.9" y1="1616.6" x2="1254.4" y2="1616.6" stroke="#8c00aa" stroke-width="3.0" />
<line x1="1229.9" y1="1656.6" x2="1254.4" y2="1656.6" stroke="#8c00aa" stroke-width="3.0" />
<polygon points="591.1,1405.1 603.6,1380.1 578.6,1380.1" fill="#8c00aa"/>
<polygon points="658.5,1566.7 671.0,1541.7 646.0,1541.7" fill="#8c00aa"/>
<polygon points="725.8,1624.3 738.3,1599.3 713.3,1599.3" fill="#8c00aa"/>
<polygon points="793.2,1660.3 805.7,1635.3 780.7,1635.3" fill="#8c00aa"/>
<polygon points="860.5,1667.1 873.0,1642.1 848.0,1642.1" fill="#8c00aa"/>
<polygon points="927.9,1653.5 940.4,1628.5 915.4,1628.5" fill="#8c00aa"/>
<polygon points="995.2,1639.1 1007.8,1614.1 982.8,1614.1" fill="#8c00aa"/>
<polygon points="1062.6,1655.5 1075.1,1630.5 1050.1,1630.5" fill="#8c00aa"/>
<polygon points="1129.9,1673.9 1142.4,1648.9 1117.4,1648.9" fill="#8c00aa"/>
<polygon points="1242.2,1649.1 1254.7,1624.1 1229.7,1624.1" fill="#8c00aa"/>
<polyline points="591.1,1391.8 658.5,1600.6 725.8,1661.4 793.2,1689.8 860.5,1693.4 927.9,1685.8 995.2,1683.0 1062.6,1703.8 1129.9,1719.8 1242.2,1708.6" fill="none" stroke="#6060ff" stroke-width="2.5" stroke-linejoin="round" />
<line x1="658.5" y1="1571.0" x2="658.5" y2="1630.2" stroke="#6060ff" stroke-width="3.0" />
<line x1="646.2" y1="1571.0" x2="670.8" y2="1571.0" stroke="#6060ff" stroke-width="3.0" />
<line x1="646.2" y1="1630.2" x2="670.8" y2="1630.2" stroke="#6060ff" stroke-width="3.0" />
<line x1="793.2" y1="1658.2" x2="793.2" y2="1721.4" stroke="#6060ff" stroke-width="3.0" />
<line x1="781.0" y1="1658.2" x2="805.5" y2="1658.2" stroke="#6060ff" stroke-width="3.0" />
<line x1="781.0" y1="1721.4" x2="805.5" y2="1721.4" stroke="#6060ff" stroke-width="3.0" />
<line x1="860.5" y1="1655.8" x2="860.5" y2="1731.0" stroke="#6060ff" stroke-width="3.0" />
<line x1="848.3" y1="1655.8" x2="872.8" y2="1655.8" stroke="#6060ff" stroke-width="3.0" />
<line x1="848.3" y1="1731.0" x2="872.8" y2="1731.0" stroke="#6060ff" stroke-width="3.0" />
<line x1="927.9" y1="1649.0" x2="927.9" y2="1722.6" stroke="#6060ff" stroke-width="3.0" />
<line x1="915.6" y1="1649.0" x2="940.1" y2="1649.0" stroke="#6060ff" stroke-width="3.0" />
<line x1="915.6" y1="1722.6" x2="940.1" y2="1722.6" stroke="#6060ff" stroke-width="3.0" />
<line x1="995.2" y1="1653.0" x2="995.2" y2="1713.0" stroke="#6060ff" stroke-width="3.0" />
<line x1="983.0" y1="1653.0" x2="1007.5" y2="1653.0" stroke="#6060ff" stroke-width="3.0" />
<line x1="983.0" y1="1713.0" x2="1007.5" y2="1713.0" stroke="#6060ff" stroke-width="3.0" />
<line x1="1062.6" y1="1681.8" x2="1062.6" y2="1725.8" stroke="#6060ff" stroke-width="3.0" />
<line x1="1050.3" y1="1681.8" x2="1074.8" y2="1681.8" stroke="#6060ff" stroke-width="3.0" />
<line x1="1050.3" y1="1725.8" x2="1074.8" y2="1725.8" stroke="#6060ff" stroke-width="3.0" />
<line x1="1242.2" y1="1693.8" x2="1242.2" y2="1723.4" stroke="#6060ff" stroke-width="3.0" />
<line x1="1229.9" y1="1693.8" x2="1254.4" y2="1693.8" stroke="#6060ff" stroke-width="3.0" />
<line x1="1229.9" y1="1723.4" x2="1254.4" y2="1723.4" stroke="#6060ff" stroke-width="3.0" />
<polygon points="591.1,1379.3 603.6,1404.3 578.6,1404.3" fill="#6060ff"/>
<polygon points="658.5,1588.1 671.0,1613.1 646.0,1613.1" fill="#6060ff"/>
<polygon points="725.8,1648.9 738.3,1673.9 713.3,1673.9" fill="#6060ff"/>
<polygon points="793.2,1677.3 805.7,1702.3 780.7,1702.3" fill="#6060ff"/>
<polygon points="860.5,1680.9 873.0,1705.9 848.0,1705.9" fill="#6060ff"/>
<polygon points="927.9,1673.3 940.4,1698.3 915.4,1698.3" fill="#6060ff"/>
<polygon points="995.2,1670.5 1007.8,1695.5 982.8,1695.5" fill="#6060ff"/>
<polygon points="1062.6,1691.3 1075.1,1716.3 1050.1,1716.3" fill="#6060ff"/>
<polygon points="1129.9,1707.3 1142.4,1732.3 1117.4,1732.3" fill="#6060ff"/>
<polygon points="1242.2,1696.1 1254.7,1721.1 1229.7,1721.1" fill="#6060ff"/>
<polyline points="591.1,1365.0 658.5,1647.8 725.8,1715.8 793.2,1740.6 860.5,1747.8 927.9,1750.2 995.2,1755.0 1062.6,1766.2 1129.9,1768.2 1242.2,1772.2" fill="none" stroke="#008000" stroke-width="2.5" stroke-linejoin="round" />
<rect x="578.6" y="1352.5" width="25.0" height="25.0" fill="#008000"/>
<rect x="646.0" y="1635.3" width="25.0" height="25.0" fill="#008000"/>
<rect x="713.3" y="1703.3" width="25.0" height="25.0" fill="#008000"/>
<rect x="780.7" y="1728.1" width="25.0" height="25.0" fill="#008000"/>
<rect x="848.0" y="1735.3" width="25.0" height="25.0" fill="#008000"/>
<rect x="915.4" y="1737.7" width="25.0" height="25.0" fill="#008000"/>
<rect x="982.8" y="1742.5" width="25.0" height="25.0" fill="#008000"/>
<rect x="1050.1" y="1753.7" width="25.0" height="25.0" fill="#008000"/>
<rect x="1117.4" y="1755.7" width="25.0" height="25.0" fill="#008000"/>
<rect x="1229.7" y="1759.7" width="25.0" height="25.0" fill="#008000"/>
<polyline points="591.1,1326.2 658.5,1654.2 725.8,1729.4 793.2,1751.0 860.5,1762.6 927.9,1766.2 995.2,1768.8 1062.6,1771.8 1129.9,1774.6 1242.2,1775.0" fill="none" stroke="#ff4040" stroke-width="2.5" stroke-linejoin="round" />
<circle cx="591.1" cy="1326.2" r="12.1" fill="#ff4040"/>
<circle cx="658.5" cy="1654.2" r="12.1" fill="#ff4040"/>
<circle cx="725.8" cy="1729.4" r="12.1" fill="#ff4040"/>
<circle cx="793.2" cy="1751.0" r="12.1" fill="#ff4040"/>
<circle cx="860.5" cy="1762.6" r="12.1" fill="#ff4040"/>
<circle cx="927.9" cy="1766.2" r="12.1" fill="#ff4040"/>
<circle cx="995.2" cy="1768.8" r="12.1" fill="#ff4040"/>
<circle cx="1062.6" cy="1771.8" r="12.1" fill="#ff4040"/>
<circle cx="1129.9" cy="1774.6" r="12.1" fill="#ff4040"/>
<circle cx="1242.2" cy="1775.0" r="12.1" fill="#ff4040"/>
<line x1="1513.4" y1="1217.6" x2="1577.5" y2="1217.6" stroke="#ff4040" stroke-width="2.5" />
<circle cx="1545.0" cy="1217.6" r="12.1" fill="#ff4040"/>
<text font-size="50.2" text-anchor="start" transform="translate(1612.0 1232.8) scale(1 1.025)">Skim 10 µM</text>
<line x1="1513.4" y1="1297.5" x2="1577.5" y2="1297.5" stroke="#008000" stroke-width="2.5" />
<rect x="1532.5" y="1285.0" width="25.0" height="25.0" fill="#008000"/>
<text font-size="50.2" text-anchor="start" transform="translate(1612.0 1312.7) scale(1 1.025)">Skim 5 µM</text>
<line x1="1513.4" y1="1377.4" x2="1577.5" y2="1377.4" stroke="#6060ff" stroke-width="2.5" />
<polygon points="1545.0,1364.9 1557.5,1389.9 1532.5,1389.9" fill="#6060ff"/>
<text font-size="50.2" text-anchor="start" transform="translate(1612.0 1392.6) scale(1 1.025)">Skim 1 µM</text>
<line x1="1513.4" y1="1457.4" x2="1577.5" y2="1457.4" stroke="#8c00aa" stroke-width="2.5" />
<polygon points="1545.0,1469.9 1557.5,1444.9 1532.5,1444.9" fill="#8c00aa"/>
<text font-size="50.2" text-anchor="start" transform="translate(1612.0 1472.6) scale(1 1.025)">Skim 500 nM</text>
<line x1="1513.4" y1="1537.3" x2="1577.5" y2="1537.3" stroke="#a08a3c" stroke-width="2.5" />
<polygon points="1545.0,1524.8 1557.5,1537.3 1545.0,1549.8 1532.5,1537.3" fill="#a08a3c"/>
<text font-size="50.2" text-anchor="start" transform="translate(1612.0 1552.5) scale(1 1.025)">Skim 100 nM</text>
<line x1="1513.4" y1="1617.2" x2="1577.5" y2="1617.2" stroke="#000" stroke-width="2.5" />
<circle cx="1545.0" cy="1617.2" r="11.8" fill="#ff8000" stroke="#000" stroke-width="5.8"/>
<text font-size="50.2" text-anchor="start" transform="translate(1612.0 1632.4) scale(1 1.025)">Skim 50 nM</text>
<line x1="1513.4" y1="1697.1" x2="1577.5" y2="1697.1" stroke="#000" stroke-width="2.5" />
<rect x="1533.0" y="1685.1" width="24.0" height="24.0" fill="#c00000" stroke="#000" stroke-width="5.8"/>
<text font-size="50.2" text-anchor="start" transform="translate(1612.0 1712.3) scale(1 1.025)">Skim 1 nM</text>
<line x1="1513.4" y1="1777.0" x2="1577.5" y2="1777.0" stroke="#000" stroke-width="2.5" />
<polygon points="1545.0,1767.5 1556.2,1790.0 1533.8,1790.0" fill="#ff0a78" stroke="#000" stroke-width="5.6"/>
<text font-size="50.2" text-anchor="start" transform="translate(1612.0 1792.2) scale(1 1.025)">Skim 500 pM</text>
<line x1="1513.4" y1="1857.0" x2="1577.5" y2="1857.0" stroke="#000" stroke-width="2.5" />
<polygon points="1545.0,1866.5 1556.2,1844.0 1533.8,1844.0" fill="#fff" stroke="#000" stroke-width="5.6"/>
<text font-size="50.2" text-anchor="start" transform="translate(1612.0 1872.2) scale(1 1.025)">Skim 100 pM</text>
</g>
<g id="panel-c">
<text font-size="66" font-weight="bold" text-anchor="start" transform="translate(14.0 2025.5) scale(1 1.025)">c</text>
<line x1="490.5" y1="2203.3" x2="490.5" y2="2819.1" stroke="#000" stroke-width="5.7" />
<line x1="463.5" y1="2815.6" x2="490.5" y2="2815.6" stroke="#000" stroke-width="5.7" />
<text font-size="57.5" font-weight="bold" text-anchor="end" transform="translate(455.2 2835.9) scale(1 1.04)">0</text>
<line x1="463.5" y1="2663.2" x2="490.5" y2="2663.2" stroke="#000" stroke-width="5.7" />
<text font-size="57.5" font-weight="bold" text-anchor="end" transform="translate(455.2 2683.6) scale(1 1.04)">50</text>
<line x1="463.5" y1="2510.9" x2="490.5" y2="2510.9" stroke="#000" stroke-width="5.7" />
<text font-size="57.5" font-weight="bold" text-anchor="end" transform="translate(455.2 2531.2) scale(1 1.04)">100</text>
<line x1="463.5" y1="2358.5" x2="490.5" y2="2358.5" stroke="#000" stroke-width="5.7" />
<text font-size="57.5" font-weight="bold" text-anchor="end" transform="translate(455.2 2378.8) scale(1 1.04)">150</text>
<line x1="463.5" y1="2206.2" x2="490.5" y2="2206.2" stroke="#000" stroke-width="5.7" />
<text font-size="57.5" font-weight="bold" text-anchor="end" transform="translate(455.2 2226.5) scale(1 1.04)">200</text>
<line x1="639.8" y1="2815.6" x2="639.8" y2="2841.1" stroke="#000" stroke-width="7.2" />
<text font-size="57.5" font-weight="bold" text-anchor="middle" transform="translate(639.8 2900.6) scale(1 1.04)">14</text>
<line x1="948.2" y1="2815.6" x2="948.2" y2="2841.1" stroke="#000" stroke-width="7.2" />
<text font-size="57.5" font-weight="bold" text-anchor="middle" transform="translate(948.2 2900.6) scale(1 1.04)">20</text>
<line x1="1256.0" y1="2815.6" x2="1256.0" y2="2841.1" stroke="#000" stroke-width="7.2" />
<text font-size="57.5" font-weight="bold" text-anchor="middle" transform="translate(1256.0 2900.6) scale(1 1.04)">34</text>
<text font-size="58.3" font-weight="bold" text-anchor="middle" transform="translate(326.5 2504.0) rotate(-90) scale(1 1.025)">Relative HiBiT activity to DMSO (%)</text>
<text font-size="58.8" font-weight="bold" text-anchor="middle" transform="translate(948.4 2988.0) scale(1 1.025)">Days after infection</text>
<line x1="509.6" y1="2350.3" x2="509.6" y2="2510.9" stroke="#000" stroke-width="2.2" />
<line x1="505.8" y1="2350.3" x2="513.4" y2="2350.3" stroke="#000" stroke-width="2.6" />
<rect x="502.3" y="2513.7" width="14.6" height="301.9" fill="#000000" stroke="#000" stroke-width="5.6"/>
<line x1="538.5" y1="2790.6" x2="538.5" y2="2797.0" stroke="#000" stroke-width="2.7" />
<line x1="533.5" y1="2790.6" x2="543.5" y2="2790.6" stroke="#000" stroke-width="3" />
<rect x="531.2" y="2799.8" width="14.6" height="15.8" fill="#ff0000" stroke="#000" stroke-width="5.6"/>
<line x1="567.5" y1="2784.5" x2="567.5" y2="2790.0" stroke="#000" stroke-width="2.7" />
<line x1="562.5" y1="2784.5" x2="572.5" y2="2784.5" stroke="#000" stroke-width="3" />
<rect x="560.2" y="2792.8" width="14.6" height="22.8" fill="#008000" stroke="#000" stroke-width="5.6"/>
<line x1="596.4" y1="2723.3" x2="596.4" y2="2749.5" stroke="#000" stroke-width="2.7" />
<line x1="591.4" y1="2723.3" x2="601.4" y2="2723.3" stroke="#000" stroke-width="3" />
<rect x="589.1" y="2752.3" width="14.6" height="63.3" fill="#ffff00" stroke="#000" stroke-width="5.6"/>
<line x1="625.3" y1="2697.7" x2="625.3" y2="2721.8" stroke="#000" stroke-width="2.7" />
<line x1="620.3" y1="2697.7" x2="630.3" y2="2697.7" stroke="#000" stroke-width="3" />
<rect x="618.0" y="2724.6" width="14.6" height="91.0" fill="#0000ff" stroke="#000" stroke-width="5.6"/>
<line x1="654.3" y1="2565.4" x2="654.3" y2="2646.8" stroke="#000" stroke-width="2.7" />
<line x1="649.3" y1="2565.4" x2="659.3" y2="2565.4" stroke="#000" stroke-width="3" />
<rect x="647.0" y="2649.6" width="14.6" height="166.0" fill="#ff8000" stroke="#000" stroke-width="5.6"/>
<line x1="683.2" y1="2607.8" x2="683.2" y2="2639.8" stroke="#000" stroke-width="2.7" />
<line x1="678.2" y1="2607.8" x2="688.2" y2="2607.8" stroke="#000" stroke-width="3" />
<rect x="675.9" y="2642.6" width="14.6" height="173.0" fill="#cc00e6" stroke="#000" stroke-width="5.6"/>
<line x1="712.1" y1="2554.2" x2="712.1" y2="2610.8" stroke="#000" stroke-width="2.7" />
<line x1="707.1" y1="2554.2" x2="717.1" y2="2554.2" stroke="#000" stroke-width="3" />
<rect x="704.8" y="2613.6" width="14.6" height="202.0" fill="#a5601a" stroke="#000" stroke-width="5.6"/>
<line x1="741.1" y1="2563.3" x2="741.1" y2="2619.1" stroke="#000" stroke-width="2.7" />
<line x1="736.1" y1="2563.3" x2="746.1" y2="2563.3" stroke="#000" stroke-width="3" />
<rect x="733.8" y="2621.9" width="14.6" height="193.7" fill="#808080" stroke="#000" stroke-width="5.6"/>
<line x1="770.0" y1="2603.2" x2="770.0" y2="2622.4" stroke="#000" stroke-width="2.7" />
<line x1="765.0" y1="2603.2" x2="775.0" y2="2603.2" stroke="#000" stroke-width="3" />
<rect x="762.7" y="2625.2" width="14.6" height="190.4" fill="#00f80f" stroke="#000" stroke-width="5.6"/>
<line x1="818.0" y1="2390.5" x2="818.0" y2="2512.4" stroke="#000" stroke-width="2.2" />
<line x1="814.2" y1="2390.5" x2="821.8" y2="2390.5" stroke="#000" stroke-width="2.6" />
<rect x="810.7" y="2515.2" width="14.6" height="300.4" fill="#000000" stroke="#000" stroke-width="5.6"/>
<line x1="846.9" y1="2807.1" x2="846.9" y2="2809.5" stroke="#000" stroke-width="2.7" />
<line x1="841.9" y1="2807.1" x2="851.9" y2="2807.1" stroke="#000" stroke-width="3" />
<rect x="839.6" y="2812.3" width="14.6" height="3.3" fill="#ff0000" stroke="#000" stroke-width="5.6"/>
<line x1="875.9" y1="2794.9" x2="875.9" y2="2798.8" stroke="#000" stroke-width="2.7" />
<line x1="870.9" y1="2794.9" x2="880.9" y2="2794.9" stroke="#000" stroke-width="3" />
<rect x="868.6" y="2801.6" width="14.6" height="14.0" fill="#008000" stroke="#000" stroke-width="5.6"/>
<line x1="904.8" y1="2717.5" x2="904.8" y2="2745.5" stroke="#000" stroke-width="2.7" />
<line x1="899.8" y1="2717.5" x2="909.8" y2="2717.5" stroke="#000" stroke-width="3" />
<rect x="897.5" y="2748.3" width="14.6" height="67.3" fill="#ffff00" stroke="#000" stroke-width="5.6"/>
<line x1="933.7" y1="2681.5" x2="933.7" y2="2717.5" stroke="#000" stroke-width="2.7" />
<line x1="928.7" y1="2681.5" x2="938.7" y2="2681.5" stroke="#000" stroke-width="3" />
<rect x="926.4" y="2720.3" width="14.6" height="95.3" fill="#0000ff" stroke="#000" stroke-width="5.6"/>
<line x1="962.7" y1="2606.6" x2="962.7" y2="2681.5" stroke="#000" stroke-width="2.7" />
<line x1="957.7" y1="2606.6" x2="967.7" y2="2606.6" stroke="#000" stroke-width="3" />
<rect x="955.4" y="2684.3" width="14.6" height="131.3" fill="#ff8000" stroke="#000" stroke-width="5.6"/>
<line x1="991.6" y1="2548.1" x2="991.6" y2="2621.2" stroke="#000" stroke-width="2.7" />
<line x1="986.6" y1="2548.1" x2="996.6" y2="2548.1" stroke="#000" stroke-width="3" />
<rect x="984.3" y="2624.0" width="14.6" height="191.6" fill="#cc00e6" stroke="#000" stroke-width="5.6"/>
<line x1="1020.5" y1="2606.6" x2="1020.5" y2="2643.7" stroke="#000" stroke-width="2.7" />
<line x1="1015.5" y1="2606.6" x2="1025.5" y2="2606.6" stroke="#000" stroke-width="3" />
<rect x="1013.2" y="2646.5" width="14.6" height="169.1" fill="#a5601a" stroke="#000" stroke-width="5.6"/>
<line x1="1049.5" y1="2633.7" x2="1049.5" y2="2652.0" stroke="#000" stroke-width="2.7" />
<line x1="1044.5" y1="2633.7" x2="1054.5" y2="2633.7" stroke="#000" stroke-width="3" />
<rect x="1042.2" y="2654.8" width="14.6" height="160.8" fill="#808080" stroke="#000" stroke-width="5.6"/>
<line x1="1078.4" y1="2517.6" x2="1078.4" y2="2592.0" stroke="#000" stroke-width="2.7" />
<line x1="1073.4" y1="2517.6" x2="1083.4" y2="2517.6" stroke="#000" stroke-width="3" />
<rect x="1071.1" y="2594.8" width="14.6" height="220.8" fill="#00f80f" stroke="#000" stroke-width="5.6"/>
<line x1="1125.8" y1="2428.0" x2="1125.8" y2="2512.4" stroke="#000" stroke-width="2.2" />
<line x1="1122.0" y1="2428.0" x2="1129.6" y2="2428.0" stroke="#000" stroke-width="2.6" />
<rect x="1118.5" y="2515.2" width="14.6" height="300.4" fill="#000000" stroke="#000" stroke-width="5.6"/>
<line x1="1144.6" y1="2812.2" x2="1164.8" y2="2812.2" stroke="#555" stroke-width="1" />
<rect x="1176.4" y="2817.2" width="14.6" height="0.5" fill="#008000" stroke="#000" stroke-width="5.6"/>
<line x1="1212.6" y1="2752.5" x2="1212.6" y2="2762.9" stroke="#000" stroke-width="2.7" />
<line x1="1207.6" y1="2752.5" x2="1217.6" y2="2752.5" stroke="#000" stroke-width="3" />
<rect x="1205.3" y="2765.7" width="14.6" height="49.9" fill="#ffff00" stroke="#000" stroke-width="5.6"/>
<line x1="1241.5" y1="2693.7" x2="1241.5" y2="2710.2" stroke="#000" stroke-width="2.7" />
<line x1="1236.5" y1="2693.7" x2="1246.5" y2="2693.7" stroke="#000" stroke-width="3" />
<rect x="1234.2" y="2713.0" width="14.6" height="102.6" fill="#0000ff" stroke="#000" stroke-width="5.6"/>
<line x1="1270.5" y1="2685.5" x2="1270.5" y2="2719.9" stroke="#000" stroke-width="2.7" />
<line x1="1265.5" y1="2685.5" x2="1275.5" y2="2685.5" stroke="#000" stroke-width="3" />
<rect x="1263.2" y="2722.7" width="14.6" height="92.9" fill="#ff8000" stroke="#000" stroke-width="5.6"/>
<line x1="1299.4" y1="2671.8" x2="1299.4" y2="2689.5" stroke="#000" stroke-width="2.7" />
<line x1="1294.4" y1="2671.8" x2="1304.4" y2="2671.8" stroke="#000" stroke-width="3" />
<rect x="1292.1" y="2692.3" width="14.6" height="123.3" fill="#cc00e6" stroke="#000" stroke-width="5.6"/>
<line x1="1328.3" y1="2627.0" x2="1328.3" y2="2658.4" stroke="#000" stroke-width="2.7" />
<line x1="1323.3" y1="2627.0" x2="1333.3" y2="2627.0" stroke="#000" stroke-width="3" />
<rect x="1321.0" y="2661.2" width="14.6" height="154.4" fill="#a5601a" stroke="#000" stroke-width="5.6"/>
<line x1="1357.3" y1="2667.5" x2="1357.3" y2="2687.3" stroke="#000" stroke-width="2.7" />
<line x1="1352.3" y1="2667.5" x2="1362.3" y2="2667.5" stroke="#000" stroke-width="3" />
<rect x="1350.0" y="2690.1" width="14.6" height="125.5" fill="#808080" stroke="#000" stroke-width="5.6"/>
<line x1="1386.2" y1="2614.5" x2="1386.2" y2="2646.2" stroke="#000" stroke-width="2.7" />
<line x1="1381.2" y1="2614.5" x2="1391.2" y2="2614.5" stroke="#000" stroke-width="3" />
<rect x="1378.9" y="2649.0" width="14.6" height="166.6" fill="#00f80f" stroke="#000" stroke-width="5.6"/>
<line x1="463.5" y1="2815.6" x2="1410.5" y2="2815.6" stroke="#000" stroke-width="7.0" />
<rect x="1516.2" y="2127.0" width="61.7" height="27.4" fill="#000000" stroke="#000" stroke-width="5.8"/>
<text font-size="51" text-anchor="start" transform="translate(1616.5 2156.7) scale(1 1.025)">DMSO 2%</text>
<rect x="1516.2" y="2208.2" width="61.7" height="27.4" fill="#ff0000" stroke="#000" stroke-width="5.8"/>
<text font-size="51" text-anchor="start" transform="translate(1616.5 2237.9) scale(1 1.025)">Skim 10 µM</text>
<rect x="1516.2" y="2289.4" width="61.7" height="27.4" fill="#008000" stroke="#000" stroke-width="5.8"/>
<text font-size="51" text-anchor="start" transform="translate(1616.5 2319.1) scale(1 1.025)">Skim 5 µM</text>
<rect x="1516.2" y="2370.6" width="61.7" height="27.4" fill="#ffff00" stroke="#000" stroke-width="5.8"/>
<text font-size="51" text-anchor="start" transform="translate(1616.5 2400.3) scale(1 1.025)">Skim 1 µM</text>
<rect x="1516.2" y="2451.8" width="61.7" height="27.4" fill="#0000ff" stroke="#000" stroke-width="5.8"/>
<text font-size="51" text-anchor="start" transform="translate(1616.5 2481.5) scale(1 1.025)">Skim 500 nM</text>
<rect x="1516.2" y="2533.0" width="61.7" height="27.4" fill="#ff8000" stroke="#000" stroke-width="5.8"/>
<text font-size="51" text-anchor="start" transform="translate(1616.5 2562.7) scale(1 1.025)">Skim 100 nM</text>
<rect x="1516.2" y="2614.2" width="61.7" height="27.4" fill="#cc00e6" stroke="#000" stroke-width="5.8"/>
<text font-size="51" text-anchor="start" transform="translate(1616.5 2643.9) scale(1 1.025)">Skim 50 nM</text>
<rect x="1516.2" y="2695.4" width="61.7" height="27.4" fill="#a5601a" stroke="#000" stroke-width="5.8"/>
<text font-size="51" text-anchor="start" transform="translate(1616.5 2725.1) scale(1 1.025)">Skim 1 nM</text>
<rect x="1516.2" y="2776.6" width="61.7" height="27.4" fill="#808080" stroke="#000" stroke-width="5.8"/>
<text font-size="51" text-anchor="start" transform="translate(1616.5 2806.3) scale(1 1.025)">Skim 500 pM</text>
<rect x="1516.2" y="2857.8" width="61.7" height="27.4" fill="#00f80f" stroke="#000" stroke-width="5.8"/>
<text font-size="51" text-anchor="start" transform="translate(1616.5 2887.5) scale(1 1.025)">Skim 100 pM</text>
</g>
<g id="panel-d">
<text font-size="66" font-weight="bold" text-anchor="start" transform="translate(14.0 3169.0) scale(1 1.025)">d</text>
<line x1="490.9" y1="3271.3" x2="490.9" y2="4203.9" stroke="#000" stroke-width="7.2" />
<line x1="468.9" y1="4015.4" x2="1878.4" y2="4015.4" stroke="#000" stroke-width="6.5" />
<line x1="468.9" y1="4200.6" x2="490.9" y2="4200.6" stroke="#000" stroke-width="6.5" />
<text font-size="46" font-weight="bold" text-anchor="end" transform="translate(462.9 4217.1) scale(1 1.04)">-50</text>
<line x1="468.9" y1="4015.4" x2="490.9" y2="4015.4" stroke="#000" stroke-width="6.5" />
<text font-size="46" font-weight="bold" text-anchor="end" transform="translate(462.9 4031.9) scale(1 1.04)">0</text>
<line x1="468.9" y1="3830.2" x2="490.9" y2="3830.2" stroke="#000" stroke-width="6.5" />
<text font-size="46" font-weight="bold" text-anchor="end" transform="translate(462.9 3846.7) scale(1 1.04)">50</text>
<line x1="468.9" y1="3645.0" x2="490.9" y2="3645.0" stroke="#000" stroke-width="6.5" />
<text font-size="46" font-weight="bold" text-anchor="end" transform="translate(462.9 3661.5) scale(1 1.04)">100</text>
<line x1="468.9" y1="3459.8" x2="490.9" y2="3459.8" stroke="#000" stroke-width="6.5" />
<text font-size="46" font-weight="bold" text-anchor="end" transform="translate(462.9 3476.3) scale(1 1.04)">150</text>
<line x1="468.9" y1="3274.6" x2="490.9" y2="3274.6" stroke="#000" stroke-width="6.5" />
<text font-size="46" font-weight="bold" text-anchor="end" transform="translate(462.9 3291.1) scale(1 1.04)">200</text>
<line x1="767.3" y1="4015.4" x2="767.3" y2="4037.4" stroke="#000" stroke-width="7" />
<text font-size="46" font-weight="bold" text-anchor="start" transform="translate(718.1 4085.0) scale(1 1.04)">10<tspan x="56.5" dy="-13.9" text-anchor="start" font-size="29">-12</tspan></text>
<line x1="1044.2" y1="4015.4" x2="1044.2" y2="4037.4" stroke="#000" stroke-width="7" />
<text font-size="46" font-weight="bold" text-anchor="start" transform="translate(995.0 4085.0) scale(1 1.04)">10<tspan x="56.5" dy="-13.9" text-anchor="start" font-size="29">-10</tspan></text>
<line x1="1321.1" y1="4015.4" x2="1321.1" y2="4037.4" stroke="#000" stroke-width="7" />
<text font-size="46" font-weight="bold" text-anchor="start" transform="translate(1279.8 4085.0) scale(1 1.04)">10<tspan x="56.5" dy="-13.9" text-anchor="start" font-size="29">-8</tspan></text>
<line x1="1598.0" y1="4015.4" x2="1598.0" y2="4037.4" stroke="#000" stroke-width="7" />
<text font-size="46" font-weight="bold" text-anchor="start" transform="translate(1556.8 4085.0) scale(1 1.04)">10<tspan x="56.5" dy="-13.9" text-anchor="start" font-size="29">-6</tspan></text>
<line x1="1874.9" y1="4015.4" x2="1874.9" y2="4037.4" stroke="#000" stroke-width="7" />
<text font-size="46" font-weight="bold" text-anchor="start" transform="translate(1833.2 4085.0) scale(1 1.04)">10<tspan x="56.5" dy="-13.9" text-anchor="start" font-size="29">-4</tspan></text>
<text font-size="45.6" font-weight="bold" text-anchor="middle" transform="translate(363.5 3729.0) rotate(-90) scale(1 1.025)">Relative HiBiT activity to DMSO (%)</text>
<text font-size="52.3" font-weight="bold" text-anchor="middle" transform="translate(1182.4 4160.0) scale(1 1.025)">Skimmianine (M)</text>
<polyline points="767.3,3675.0 781.1,3676.7 795.0,3678.5 808.8,3680.4 822.7,3682.4 836.5,3684.5 850.4,3686.7 864.2,3689.1 878.1,3691.5 891.9,3694.0 905.8,3696.7 919.6,3699.4 933.4,3702.3 947.3,3705.4 961.1,3708.5 975.0,3711.8 988.8,3715.2 1002.7,3718.7 1016.5,3722.4 1030.4,3726.2 1044.2,3730.1 1058.0,3734.2 1071.9,3738.4 1085.7,3742.7 1099.6,3747.1 1113.4,3751.7 1127.3,3756.4 1141.1,3761.2 1155.0,3766.1 1168.8,3771.2 1182.7,3776.3 1196.5,3781.5 1210.3,3786.8 1224.2,3792.2 1238.0,3797.6 1251.9,3803.1 1265.7,3808.7 1279.6,3814.3 1293.4,3819.9 1307.3,3825.5 1321.1,3831.2 1334.9,3836.8 1348.8,3842.4 1362.6,3848.0 1376.5,3853.6 1390.3,3859.2 1404.2,3864.6 1418.0,3870.1 1431.9,3875.4 1445.7,3880.7 1459.5,3885.9 1473.4,3891.0 1487.2,3895.9 1501.1,3900.8 1514.9,3905.6 1528.8,3910.3 1542.6,3914.8 1556.5,3919.2 1570.3,3923.5 1584.2,3927.6 1598.0,3931.6 1611.8,3935.5 1625.7,3939.3 1639.5,3942.9 1653.4,3946.4 1667.2,3949.8 1681.1,3953.0 1694.9,3956.1 1708.8,3959.1 1722.6,3961.9 1736.5,3964.6" fill="none" stroke="#000" stroke-width="4.4" stroke-linejoin="round" />
<polyline points="767.3,3680.0 781.1,3681.9 795.0,3683.8 808.8,3685.8 822.7,3688.0 836.5,3690.2 850.4,3692.5 864.2,3694.9 878.1,3697.4 891.9,3700.1 905.8,3702.8 919.6,3705.7 933.4,3708.6 947.3,3711.7 961.1,3714.9 975.0,3718.2 988.8,3721.6 1002.7,3725.1 1016.5,3728.8 1030.4,3732.5 1044.2,3736.4 1058.0,3740.4 1071.9,3744.5 1085.7,3748.8 1099.6,3753.1 1113.4,3757.5 1127.3,3762.0 1141.1,3766.7 1155.0,3771.4 1168.8,3776.2 1182.7,3781.1 1196.5,3786.1 1210.3,3791.1 1224.2,3796.2 1238.0,3801.3 1251.9,3806.5 1265.7,3811.7 1279.6,3817.0 1293.4,3822.3 1307.3,3827.6 1321.1,3832.9 1334.9,3838.2 1348.8,3843.4 1362.6,3848.7 1376.5,3853.9 1390.3,3859.1 1404.2,3864.3 1418.0,3869.4 1431.9,3874.4 1445.7,3879.4 1459.5,3884.2 1473.4,3889.0 1487.2,3893.8 1501.1,3898.4 1514.9,3902.9 1528.8,3907.4 1542.6,3911.7 1556.5,3915.9 1570.3,3920.0 1584.2,3924.0 1598.0,3927.9 1611.8,3931.7 1625.7,3935.3 1639.5,3938.8 1653.4,3942.3 1667.2,3945.6 1681.1,3948.7 1694.9,3951.8 1708.8,3954.8 1722.6,3957.6 1736.5,3960.3" fill="none" stroke="#000" stroke-width="4.4" stroke-linejoin="round" />
<polyline points="767.3,3703.9 781.1,3706.6 795.0,3709.4 808.8,3712.3 822.7,3715.3 836.5,3718.4 850.4,3721.6 864.2,3724.9 878.1,3728.3 891.9,3731.8 905.8,3735.4 919.6,3739.1 933.4,3742.9 947.3,3746.8 961.1,3750.8 975.0,3754.9 988.8,3759.1 1002.7,3763.4 1016.5,3767.7 1030.4,3772.2 1044.2,3776.7 1058.0,3781.3 1071.9,3785.9 1085.7,3790.6 1099.6,3795.4 1113.4,3800.2 1127.3,3805.0 1141.1,3809.9 1155.0,3814.8 1168.8,3819.8 1182.7,3824.7 1196.5,3829.7 1210.3,3834.6 1224.2,3839.6 1238.0,3844.5 1251.9,3849.4 1265.7,3854.3 1279.6,3859.2 1293.4,3864.0 1307.3,3868.8 1321.1,3873.5 1334.9,3878.2 1348.8,3882.8 1362.6,3887.3 1376.5,3891.7 1390.3,3896.1 1404.2,3900.4 1418.0,3904.6 1431.9,3908.7 1445.7,3912.7 1459.5,3916.7 1473.4,3920.5 1487.2,3924.2 1501.1,3927.8 1514.9,3931.4 1528.8,3934.8 1542.6,3938.1 1556.5,3941.4 1570.3,3944.5 1584.2,3947.5 1598.0,3950.4 1611.8,3953.2 1625.7,3956.0 1639.5,3958.6 1653.4,3961.1 1667.2,3963.5 1681.1,3965.9 1694.9,3968.1 1708.8,3970.3 1722.6,3972.4 1736.5,3974.4" fill="none" stroke="#000" stroke-width="4.4" stroke-linejoin="round" />
<line x1="767.3" y1="3436.1" x2="767.3" y2="3626.2" stroke="#000" stroke-width="4.2" />
<line x1="767.3" y1="3663.8" x2="767.3" y2="3853.9" stroke="#000" stroke-width="4.2" />
<line x1="748.1" y1="3436.1" x2="786.5" y2="3436.1" stroke="#000" stroke-width="4.2" />
<line x1="748.1" y1="3853.9" x2="786.5" y2="3853.9" stroke="#000" stroke-width="4.2" />
<circle cx="767.3" cy="3645.0" r="18.8" fill="none" stroke="#000" stroke-width="4.3"/>
<line x1="1044.2" y1="3766.1" x2="1044.2" y2="3770.7" stroke="#000" stroke-width="4.2" />
<line x1="1044.2" y1="3808.2" x2="1044.2" y2="3812.8" stroke="#000" stroke-width="4.2" />
<line x1="1025.0" y1="3766.1" x2="1063.4" y2="3766.1" stroke="#000" stroke-width="4.2" />
<line x1="1025.0" y1="3812.8" x2="1063.4" y2="3812.8" stroke="#000" stroke-width="4.2" />
<circle cx="1044.2" cy="3789.5" r="18.8" fill="none" stroke="#000" stroke-width="4.3"/>
<line x1="1141.0" y1="3712.4" x2="1141.0" y2="3764.4" stroke="#000" stroke-width="4.2" />
<line x1="1141.0" y1="3801.9" x2="1141.0" y2="3853.9" stroke="#000" stroke-width="4.2" />
<line x1="1121.8" y1="3712.4" x2="1160.2" y2="3712.4" stroke="#000" stroke-width="4.2" />
<line x1="1121.8" y1="3853.9" x2="1160.2" y2="3853.9" stroke="#000" stroke-width="4.2" />
<circle cx="1141.0" cy="3783.2" r="18.8" fill="none" stroke="#000" stroke-width="4.3"/>
<line x1="1182.7" y1="3701.3" x2="1182.7" y2="3756.6" stroke="#000" stroke-width="4.2" />
<line x1="1182.7" y1="3794.1" x2="1182.7" y2="3849.5" stroke="#000" stroke-width="4.2" />
<line x1="1163.5" y1="3701.3" x2="1201.9" y2="3701.3" stroke="#000" stroke-width="4.2" />
<line x1="1163.5" y1="3849.5" x2="1201.9" y2="3849.5" stroke="#000" stroke-width="4.2" />
<circle cx="1182.7" cy="3775.4" r="18.8" fill="none" stroke="#000" stroke-width="4.3"/>
<line x1="1417.9" y1="3772.8" x2="1417.9" y2="3792.9" stroke="#000" stroke-width="4.2" />
<line x1="1417.9" y1="3830.4" x2="1417.9" y2="3850.6" stroke="#000" stroke-width="4.2" />
<line x1="1398.7" y1="3772.8" x2="1437.1" y2="3772.8" stroke="#000" stroke-width="4.2" />
<line x1="1398.7" y1="3850.6" x2="1437.1" y2="3850.6" stroke="#000" stroke-width="4.2" />
<circle cx="1417.9" cy="3811.7" r="18.8" fill="none" stroke="#000" stroke-width="4.3"/>
<line x1="1459.5" y1="3715.7" x2="1459.5" y2="3800.7" stroke="#000" stroke-width="4.2" />
<line x1="1459.5" y1="3838.2" x2="1459.5" y2="3923.2" stroke="#000" stroke-width="4.2" />
<line x1="1440.3" y1="3715.7" x2="1478.8" y2="3715.7" stroke="#000" stroke-width="4.2" />
<line x1="1440.3" y1="3923.2" x2="1478.8" y2="3923.2" stroke="#000" stroke-width="4.2" />
<circle cx="1459.5" cy="3819.5" r="18.8" fill="none" stroke="#000" stroke-width="4.3"/>
<line x1="1556.3" y1="3883.5" x2="1556.3" y2="3894.0" stroke="#000" stroke-width="4.2" />
<line x1="1556.3" y1="3931.5" x2="1556.3" y2="3942.1" stroke="#000" stroke-width="4.2" />
<line x1="1537.1" y1="3883.5" x2="1575.5" y2="3883.5" stroke="#000" stroke-width="4.2" />
<line x1="1537.1" y1="3942.1" x2="1575.5" y2="3942.1" stroke="#000" stroke-width="4.2" />
<circle cx="1556.3" cy="3912.8" r="18.8" fill="none" stroke="#000" stroke-width="4.3"/>
<line x1="1598.0" y1="3902.8" x2="1598.0" y2="3924.4" stroke="#000" stroke-width="4.2" />
<line x1="1598.0" y1="3961.9" x2="1598.0" y2="3983.5" stroke="#000" stroke-width="4.2" />
<line x1="1578.8" y1="3902.8" x2="1617.2" y2="3902.8" stroke="#000" stroke-width="4.2" />
<line x1="1578.8" y1="3983.5" x2="1617.2" y2="3983.5" stroke="#000" stroke-width="4.2" />
<circle cx="1598.0" cy="3943.2" r="18.8" fill="none" stroke="#000" stroke-width="4.3"/>
<circle cx="1694.8" cy="4005.0" r="18.8" fill="none" stroke="#000" stroke-width="4.3"/>
<circle cx="1736.5" cy="4014.3" r="18.8" fill="none" stroke="#000" stroke-width="4.3"/>
<line x1="767.3" y1="3494.6" x2="767.3" y2="3626.2" stroke="#000" stroke-width="4.2" />
<line x1="767.3" y1="3663.8" x2="767.3" y2="3795.4" stroke="#000" stroke-width="4.2" />
<line x1="748.1" y1="3494.6" x2="786.5" y2="3494.6" stroke="#000" stroke-width="4.2" />
<line x1="748.1" y1="3795.4" x2="786.5" y2="3795.4" stroke="#000" stroke-width="4.2" />
<rect x="748.6" y="3626.2" width="37.5" height="37.5" fill="none" stroke="#000" stroke-width="4.3"/>
<line x1="1044.2" y1="3651.7" x2="1044.2" y2="3726.3" stroke="#000" stroke-width="4.2" />
<line x1="1044.2" y1="3763.8" x2="1044.2" y2="3838.3" stroke="#000" stroke-width="4.2" />
<line x1="1025.0" y1="3651.7" x2="1063.4" y2="3651.7" stroke="#000" stroke-width="4.2" />
<line x1="1025.0" y1="3838.3" x2="1063.4" y2="3838.3" stroke="#000" stroke-width="4.2" />
<rect x="1025.5" y="3726.3" width="37.5" height="37.5" fill="none" stroke="#000" stroke-width="4.3"/>
<line x1="1141.0" y1="3796.9" x2="1141.0" y2="3800.3" stroke="#000" stroke-width="4.2" />
<line x1="1141.0" y1="3837.8" x2="1141.0" y2="3841.3" stroke="#000" stroke-width="4.2" />
<line x1="1121.8" y1="3796.9" x2="1160.2" y2="3796.9" stroke="#000" stroke-width="4.2" />
<line x1="1121.8" y1="3841.3" x2="1160.2" y2="3841.3" stroke="#000" stroke-width="4.2" />
<rect x="1122.2" y="3800.3" width="37.5" height="37.5" fill="none" stroke="#000" stroke-width="4.3"/>
<line x1="1182.7" y1="3761.3" x2="1182.7" y2="3787.7" stroke="#000" stroke-width="4.2" />
<line x1="1182.7" y1="3825.2" x2="1182.7" y2="3851.7" stroke="#000" stroke-width="4.2" />
<line x1="1163.5" y1="3761.3" x2="1201.9" y2="3761.3" stroke="#000" stroke-width="4.2" />
<line x1="1163.5" y1="3851.7" x2="1201.9" y2="3851.7" stroke="#000" stroke-width="4.2" />
<rect x="1163.9" y="3787.7" width="37.5" height="37.5" fill="none" stroke="#000" stroke-width="4.3"/>
<line x1="1417.9" y1="3690.6" x2="1417.9" y2="3762.6" stroke="#000" stroke-width="4.2" />
<line x1="1417.9" y1="3800.1" x2="1417.9" y2="3872.1" stroke="#000" stroke-width="4.2" />
<line x1="1398.7" y1="3690.6" x2="1437.1" y2="3690.6" stroke="#000" stroke-width="4.2" />
<line x1="1398.7" y1="3872.1" x2="1437.1" y2="3872.1" stroke="#000" stroke-width="4.2" />
<rect x="1399.1" y="3762.6" width="37.5" height="37.5" fill="none" stroke="#000" stroke-width="4.3"/>
<line x1="1459.5" y1="3765.0" x2="1459.5" y2="3837.4" stroke="#000" stroke-width="4.2" />
<line x1="1459.5" y1="3874.9" x2="1459.5" y2="3947.2" stroke="#000" stroke-width="4.2" />
<line x1="1440.3" y1="3765.0" x2="1478.8" y2="3765.0" stroke="#000" stroke-width="4.2" />
<line x1="1440.3" y1="3947.2" x2="1478.8" y2="3947.2" stroke="#000" stroke-width="4.2" />
<rect x="1440.8" y="3837.4" width="37.5" height="37.5" fill="none" stroke="#000" stroke-width="4.3"/>
<line x1="1556.3" y1="3858.4" x2="1556.3" y2="3878.9" stroke="#000" stroke-width="4.2" />
<line x1="1556.3" y1="3916.4" x2="1556.3" y2="3936.9" stroke="#000" stroke-width="4.2" />
<line x1="1537.1" y1="3858.4" x2="1575.5" y2="3858.4" stroke="#000" stroke-width="4.2" />
<line x1="1537.1" y1="3936.9" x2="1575.5" y2="3936.9" stroke="#000" stroke-width="4.2" />
<rect x="1537.6" y="3878.9" width="37.5" height="37.5" fill="none" stroke="#000" stroke-width="4.3"/>
<line x1="1598.0" y1="3905.4" x2="1598.0" y2="3920.7" stroke="#000" stroke-width="4.2" />
<line x1="1598.0" y1="3958.2" x2="1598.0" y2="3973.5" stroke="#000" stroke-width="4.2" />
<line x1="1578.8" y1="3905.4" x2="1617.2" y2="3905.4" stroke="#000" stroke-width="4.2" />
<line x1="1578.8" y1="3973.5" x2="1617.2" y2="3973.5" stroke="#000" stroke-width="4.2" />
<rect x="1579.2" y="3920.7" width="37.5" height="37.5" fill="none" stroke="#000" stroke-width="4.3"/>
<rect x="1676.0" y="3985.5" width="37.5" height="37.5" fill="none" stroke="#000" stroke-width="4.3"/>
<rect x="1717.7" y="3995.9" width="37.5" height="37.5" fill="none" stroke="#000" stroke-width="4.3"/>
<line x1="767.3" y1="3543.1" x2="767.3" y2="3626.2" stroke="#000" stroke-width="4.2" />
<line x1="767.3" y1="3663.8" x2="767.3" y2="3746.9" stroke="#000" stroke-width="4.2" />
<line x1="748.1" y1="3543.1" x2="786.5" y2="3543.1" stroke="#000" stroke-width="4.2" />
<line x1="748.1" y1="3746.9" x2="786.5" y2="3746.9" stroke="#000" stroke-width="4.2" />
<polygon points="767.3,3629.0 785.1,3663.5 749.5,3663.5" fill="none" stroke="#000" stroke-width="4.3"/>
<line x1="1044.2" y1="3773.2" x2="1044.2" y2="3792.9" stroke="#000" stroke-width="4.2" />
<line x1="1044.2" y1="3830.4" x2="1044.2" y2="3850.2" stroke="#000" stroke-width="4.2" />
<line x1="1025.0" y1="3773.2" x2="1063.4" y2="3773.2" stroke="#000" stroke-width="4.2" />
<line x1="1025.0" y1="3850.2" x2="1063.4" y2="3850.2" stroke="#000" stroke-width="4.2" />
<polygon points="1044.2,3795.7 1062.0,3830.2 1026.4,3830.2" fill="none" stroke="#000" stroke-width="4.3"/>
<line x1="1141.0" y1="3836.5" x2="1141.0" y2="3841.8" stroke="#000" stroke-width="4.2" />
<line x1="1141.0" y1="3879.3" x2="1141.0" y2="3884.6" stroke="#000" stroke-width="4.2" />
<line x1="1121.8" y1="3836.5" x2="1160.2" y2="3836.5" stroke="#000" stroke-width="4.2" />
<line x1="1121.8" y1="3884.6" x2="1160.2" y2="3884.6" stroke="#000" stroke-width="4.2" />
<polygon points="1141.0,3844.6 1158.8,3879.1 1123.2,3879.1" fill="none" stroke="#000" stroke-width="4.3"/>
<line x1="1182.7" y1="3783.9" x2="1182.7" y2="3803.3" stroke="#000" stroke-width="4.2" />
<line x1="1182.7" y1="3840.8" x2="1182.7" y2="3860.2" stroke="#000" stroke-width="4.2" />
<line x1="1163.5" y1="3783.9" x2="1201.9" y2="3783.9" stroke="#000" stroke-width="4.2" />
<line x1="1163.5" y1="3860.2" x2="1201.9" y2="3860.2" stroke="#000" stroke-width="4.2" />
<polygon points="1182.7,3806.1 1200.5,3840.6 1164.9,3840.6" fill="none" stroke="#000" stroke-width="4.3"/>
<line x1="1417.9" y1="3845.8" x2="1417.9" y2="3848.5" stroke="#000" stroke-width="4.2" />
<line x1="1417.9" y1="3886.0" x2="1417.9" y2="3888.7" stroke="#000" stroke-width="4.2" />
<line x1="1398.7" y1="3845.8" x2="1437.1" y2="3845.8" stroke="#000" stroke-width="4.2" />
<line x1="1398.7" y1="3888.7" x2="1437.1" y2="3888.7" stroke="#000" stroke-width="4.2" />
<polygon points="1417.9,3851.3 1435.7,3885.8 1400.1,3885.8" fill="none" stroke="#000" stroke-width="4.3"/>
<line x1="1459.5" y1="3857.2" x2="1459.5" y2="3880.3" stroke="#000" stroke-width="4.2" />
<line x1="1459.5" y1="3917.8" x2="1459.5" y2="3940.9" stroke="#000" stroke-width="4.2" />
<line x1="1440.3" y1="3857.2" x2="1478.8" y2="3857.2" stroke="#000" stroke-width="4.2" />
<line x1="1440.3" y1="3940.9" x2="1478.8" y2="3940.9" stroke="#000" stroke-width="4.2" />
<polygon points="1459.5,3883.1 1477.3,3917.6 1441.8,3917.6" fill="none" stroke="#000" stroke-width="4.3"/>
<line x1="1537.1" y1="3868.7" x2="1575.5" y2="3868.7" stroke="#000" stroke-width="4.2" />
<line x1="1537.1" y1="3905.8" x2="1575.5" y2="3905.8" stroke="#000" stroke-width="4.2" />
<polygon points="1556.3,3871.3 1574.1,3905.8 1538.5,3905.8" fill="none" stroke="#000" stroke-width="4.3"/>
<line x1="1578.8" y1="3938.7" x2="1617.2" y2="3938.7" stroke="#000" stroke-width="4.2" />
<line x1="1578.8" y1="3963.9" x2="1617.2" y2="3963.9" stroke="#000" stroke-width="4.2" />
<polygon points="1598.0,3935.3 1615.8,3969.8 1580.2,3969.8" fill="none" stroke="#000" stroke-width="4.3"/>
<polygon points="1694.8,3993.9 1712.6,4028.4 1677.0,4028.4" fill="none" stroke="#000" stroke-width="4.3"/>
<polygon points="1736.5,3999.4 1754.2,4033.9 1718.7,4033.9" fill="none" stroke="#000" stroke-width="4.3"/>
<line x1="1659.8" y1="3310.0" x2="1710.0" y2="3310.0" stroke="#000" stroke-width="3.8" />
<circle cx="1685.4" cy="3310.0" r="19.0" fill="none" stroke="#000" stroke-width="4.4"/>
<text font-size="44.5" text-anchor="start" transform="translate(1738.5 3323.5) scale(1 1.025)">Day 14</text>
<line x1="1659.8" y1="3373.0" x2="1710.0" y2="3373.0" stroke="#000" stroke-width="3.8" />
<rect x="1666.4" y="3354.0" width="38.0" height="38.0" fill="none" stroke="#000" stroke-width="4.4"/>
<text font-size="44.5" text-anchor="start" transform="translate(1738.5 3386.5) scale(1 1.025)">Day 20</text>
<line x1="1659.8" y1="3436.4" x2="1710.0" y2="3436.4" stroke="#000" stroke-width="3.8" />
<polygon points="1685.4,3420.4 1703.2,3454.9 1667.6,3454.9" fill="none" stroke="#000" stroke-width="4.4"/>
<text font-size="44.5" text-anchor="start" transform="translate(1738.5 3449.9) scale(1 1.025)">Day 34</text>
</g>
</svg>
</body>
</html>
